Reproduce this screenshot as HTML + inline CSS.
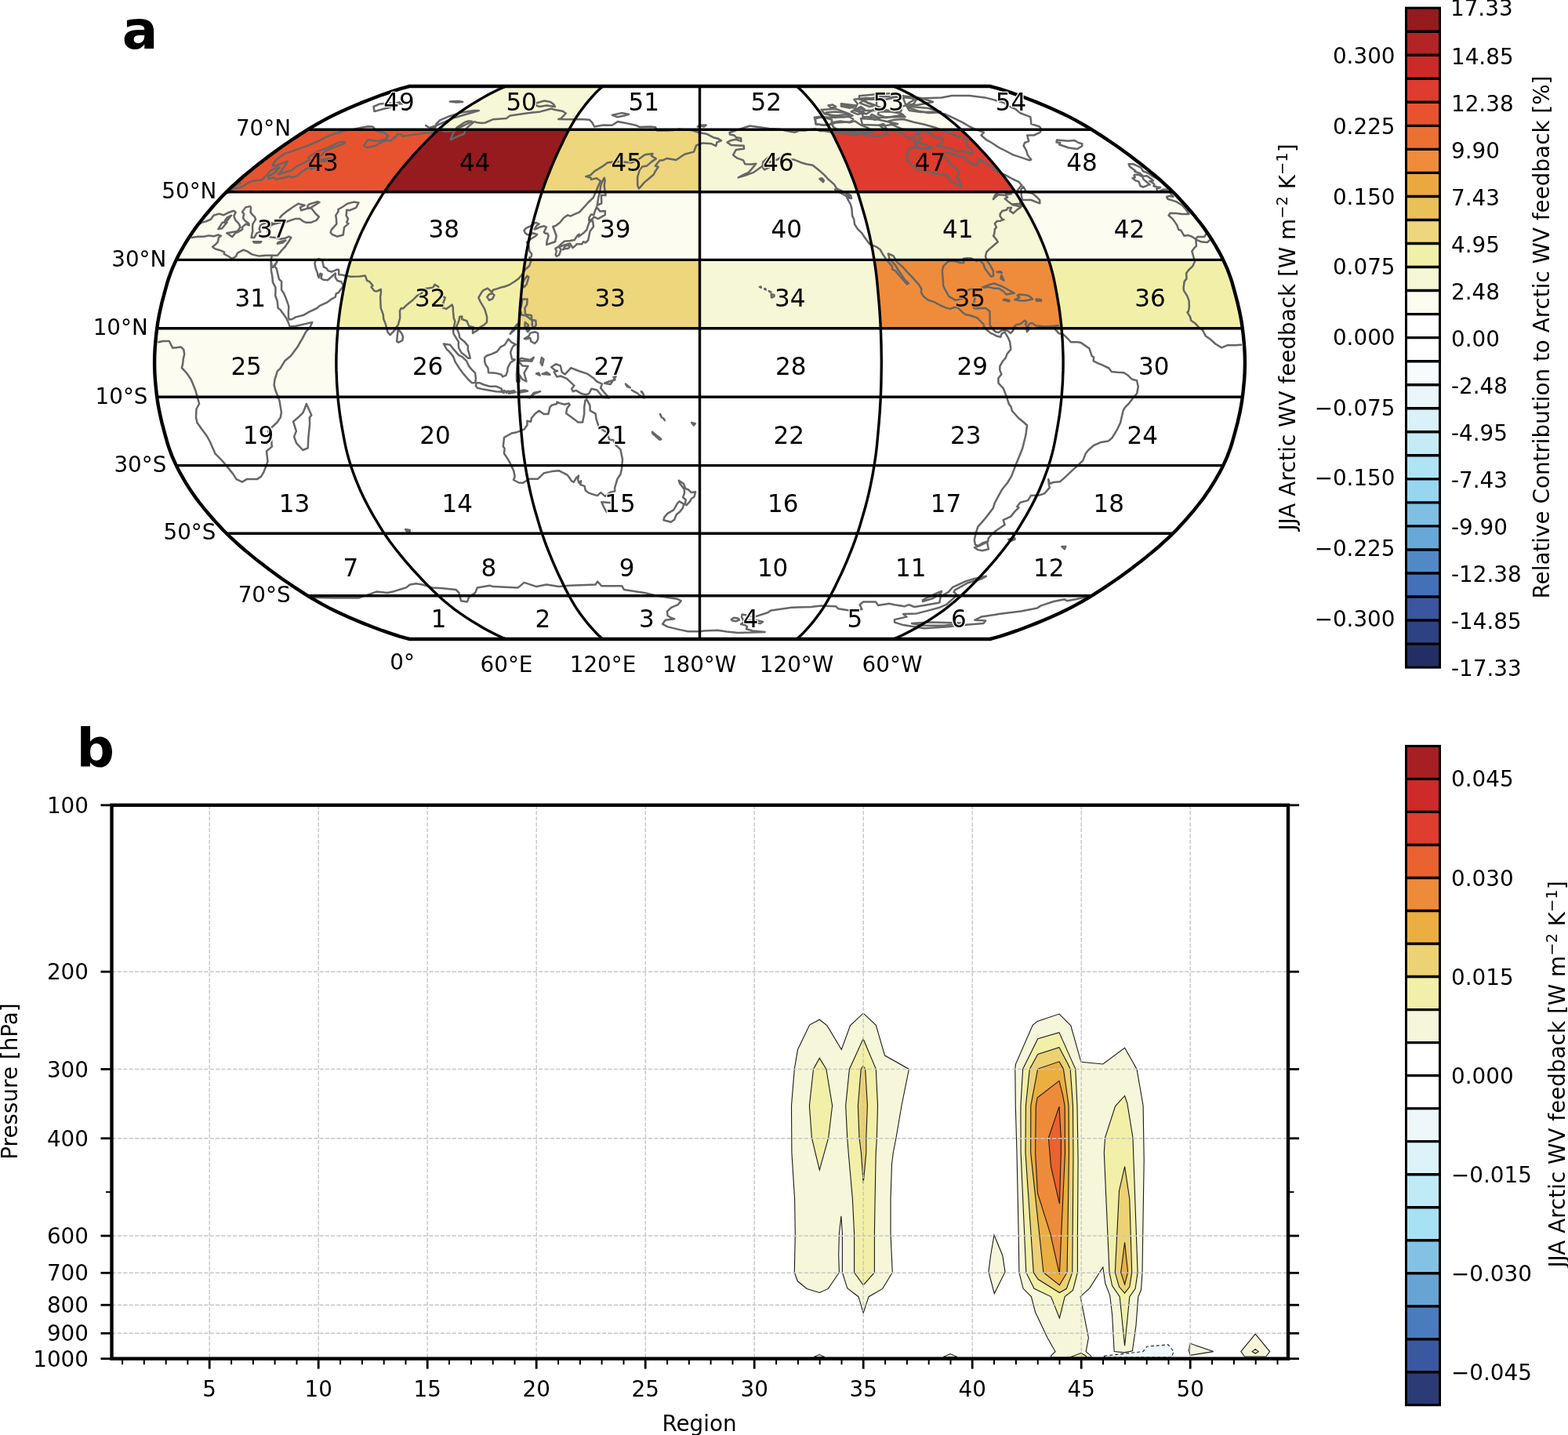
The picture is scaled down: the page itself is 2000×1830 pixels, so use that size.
<!DOCTYPE html>
<html><head><meta charset="utf-8"><title>figure</title>
<style>html,body{margin:0;padding:0;background:#fff;overflow:hidden;width:2000px;height:1830px;}svg{display:block;}</style>
</head><body>
<svg width="2000" height="1830" viewBox="0 0 2000 1830">
<rect width="2000" height="1830" fill="#fff"/>
<g id="fills">
<path d="M200.2,506.2 L431,506.2 L431,506.2 L430.8,504.7 L430.7,503.2 L430.6,501.8 L430.5,500.3 L430.4,498.8 L430.3,497.3 L430.1,495.8 L430,494.4 L430,492.9 L429.9,491.4 L429.8,489.9 L429.7,488.4 L429.6,486.9 L429.5,485.5 L429.5,484 L429.4,482.5 L429.3,481 L429.3,479.5 L429.2,478.1 L429.2,476.6 L429.1,475.1 L429.1,473.6 L429,472.1 L429,470.6 L429,469.2 L428.9,467.7 L428.9,466.2 L428.9,464.7 L428.8,463.2 L428.8,461.8 L428.9,460.3 L428.9,458.8 L428.9,457.3 L429,455.8 L429,454.4 L429,452.9 L429.1,451.4 L429.1,449.9 L429.2,448.4 L429.2,446.9 L429.3,445.5 L429.3,444 L429.4,442.5 L429.5,441 L429.5,439.5 L429.6,438.1 L429.7,436.6 L429.8,435.1 L429.9,433.6 L430,432.1 L430,430.6 L430.1,429.2 L430.3,427.7 L430.4,426.2 L430.5,424.7 L430.6,423.2 L430.7,421.8 L430.8,420.3 L431,418.8 L431,418.8 L200.2,418.8 L200.2,418.8 L200,420.3 L199.8,421.8 L199.6,423.2 L199.5,424.7 L199.3,426.2 L199.1,427.7 L199,429.2 L198.8,430.6 L198.7,432.1 L198.5,433.6 L198.4,435.1 L198.3,436.6 L198.2,438.1 L198.1,439.5 L197.9,441 L197.8,442.5 L197.7,444 L197.7,445.5 L197.6,446.9 L197.5,448.4 L197.4,449.9 L197.4,451.4 L197.3,452.9 L197.2,454.4 L197.2,455.8 L197.1,457.3 L197.1,458.8 L197,460.3 L197,461.8 L197,463.2 L197,464.7 L197.1,466.2 L197.1,467.7 L197.2,469.2 L197.2,470.6 L197.3,472.1 L197.4,473.6 L197.4,475.1 L197.5,476.6 L197.6,478.1 L197.7,479.5 L197.7,481 L197.8,482.5 L197.9,484 L198.1,485.5 L198.2,486.9 L198.3,488.4 L198.4,489.9 L198.5,491.4 L198.7,492.9 L198.8,494.4 L199,495.8 L199.1,497.3 L199.3,498.8 L199.5,500.3 L199.6,501.8 L199.8,503.2 L200,504.7 L200.2,506.2Z" fill="#fcfcf1"/>
<path d="M431,418.8 L661.7,418.8 L661.7,418.8 L661.8,417.3 L661.9,415.8 L661.9,414.3 L662,412.9 L662.1,411.4 L662.2,409.9 L662.3,408.4 L662.3,406.9 L662.4,405.5 L662.5,404 L662.6,402.5 L662.7,401 L662.8,399.5 L662.9,398 L663,396.6 L663.1,395.1 L663.2,393.6 L663.3,392.1 L663.5,390.6 L663.6,389.2 L663.7,387.7 L663.8,386.2 L664,384.7 L664.1,383.2 L664.2,381.7 L664.3,380.3 L664.5,378.8 L664.6,377.3 L664.7,375.8 L664.9,374.3 L665,372.9 L665.1,371.4 L665.3,369.9 L665.4,368.4 L665.5,366.9 L665.7,365.4 L665.8,364 L666,362.5 L666.1,361 L666.2,359.5 L666.4,358 L666.6,356.6 L666.7,355.1 L666.9,353.6 L667.1,352.1 L667.2,350.6 L667.4,349.2 L667.6,347.7 L667.8,346.2 L668,344.7 L668.2,343.2 L668.4,341.7 L668.6,340.3 L668.8,338.8 L669,337.3 L669.2,335.8 L669.5,334.3 L669.7,332.9 L669.9,331.4 L669.9,331.4 L447.4,331.4 L447.4,331.4 L446.9,332.9 L446.4,334.3 L446,335.8 L445.5,337.3 L445.1,338.8 L444.7,340.3 L444.3,341.7 L443.9,343.2 L443.5,344.7 L443.1,346.2 L442.7,347.7 L442.3,349.2 L442,350.6 L441.6,352.1 L441.3,353.6 L440.9,355.1 L440.6,356.6 L440.3,358 L440,359.5 L439.7,361 L439.4,362.5 L439.1,364 L438.8,365.4 L438.6,366.9 L438.3,368.4 L438,369.9 L437.7,371.4 L437.5,372.9 L437.2,374.3 L437,375.8 L436.7,377.3 L436.4,378.8 L436.2,380.3 L435.9,381.7 L435.7,383.2 L435.4,384.7 L435.2,386.2 L434.9,387.7 L434.7,389.2 L434.4,390.6 L434.2,392.1 L434,393.6 L433.7,395.1 L433.5,396.6 L433.3,398 L433.1,399.5 L432.9,401 L432.7,402.5 L432.5,404 L432.4,405.5 L432.2,406.9 L432,408.4 L431.8,409.9 L431.7,411.4 L431.5,412.9 L431.4,414.3 L431.2,415.8 L431.1,417.3 L431,418.8Z" fill="#f2f0a8"/>
<path d="M661.7,418.8 L892.5,418.8 L892.5,418.8 L892.5,417.3 L892.5,415.8 L892.5,414.3 L892.5,412.9 L892.5,411.4 L892.5,409.9 L892.5,408.4 L892.5,406.9 L892.5,405.5 L892.5,404 L892.5,402.5 L892.5,401 L892.5,399.5 L892.5,398 L892.5,396.6 L892.5,395.1 L892.5,393.6 L892.5,392.1 L892.5,390.6 L892.5,389.2 L892.5,387.7 L892.5,386.2 L892.5,384.7 L892.5,383.2 L892.5,381.7 L892.5,380.3 L892.5,378.8 L892.5,377.3 L892.5,375.8 L892.5,374.3 L892.5,372.9 L892.5,371.4 L892.5,369.9 L892.5,368.4 L892.5,366.9 L892.5,365.4 L892.5,364 L892.5,362.5 L892.5,361 L892.5,359.5 L892.5,358 L892.5,356.6 L892.5,355.1 L892.5,353.6 L892.5,352.1 L892.5,350.6 L892.5,349.2 L892.5,347.7 L892.5,346.2 L892.5,344.7 L892.5,343.2 L892.5,341.7 L892.5,340.3 L892.5,338.8 L892.5,337.3 L892.5,335.8 L892.5,334.3 L892.5,332.9 L892.5,331.4 L892.5,331.4 L669.9,331.4 L669.9,331.4 L669.7,332.9 L669.5,334.3 L669.2,335.8 L669,337.3 L668.8,338.8 L668.6,340.3 L668.4,341.7 L668.2,343.2 L668,344.7 L667.8,346.2 L667.6,347.7 L667.4,349.2 L667.2,350.6 L667.1,352.1 L666.9,353.6 L666.7,355.1 L666.6,356.6 L666.4,358 L666.2,359.5 L666.1,361 L666,362.5 L665.8,364 L665.7,365.4 L665.5,366.9 L665.4,368.4 L665.3,369.9 L665.1,371.4 L665,372.9 L664.9,374.3 L664.7,375.8 L664.6,377.3 L664.5,378.8 L664.3,380.3 L664.2,381.7 L664.1,383.2 L664,384.7 L663.8,386.2 L663.7,387.7 L663.6,389.2 L663.5,390.6 L663.3,392.1 L663.2,393.6 L663.1,395.1 L663,396.6 L662.9,398 L662.8,399.5 L662.7,401 L662.6,402.5 L662.5,404 L662.4,405.5 L662.3,406.9 L662.3,408.4 L662.2,409.9 L662.1,411.4 L662,412.9 L661.9,414.3 L661.9,415.8 L661.8,417.3 L661.7,418.8Z" fill="#edd67c"/>
<path d="M892.5,418.8 L1123.3,418.8 L1123.3,418.8 L1123.2,417.3 L1123.1,415.8 L1123.1,414.3 L1123,412.9 L1122.9,411.4 L1122.8,409.9 L1122.7,408.4 L1122.7,406.9 L1122.6,405.5 L1122.5,404 L1122.4,402.5 L1122.3,401 L1122.2,399.5 L1122.1,398 L1122,396.6 L1121.9,395.1 L1121.8,393.6 L1121.7,392.1 L1121.5,390.6 L1121.4,389.2 L1121.3,387.7 L1121.2,386.2 L1121,384.7 L1120.9,383.2 L1120.8,381.7 L1120.7,380.3 L1120.5,378.8 L1120.4,377.3 L1120.3,375.8 L1120.1,374.3 L1120,372.9 L1119.9,371.4 L1119.7,369.9 L1119.6,368.4 L1119.5,366.9 L1119.3,365.4 L1119.2,364 L1119,362.5 L1118.9,361 L1118.8,359.5 L1118.6,358 L1118.4,356.6 L1118.3,355.1 L1118.1,353.6 L1117.9,352.1 L1117.8,350.6 L1117.6,349.2 L1117.4,347.7 L1117.2,346.2 L1117,344.7 L1116.8,343.2 L1116.6,341.7 L1116.4,340.3 L1116.2,338.8 L1116,337.3 L1115.8,335.8 L1115.5,334.3 L1115.3,332.9 L1115.1,331.4 L1115.1,331.4 L892.5,331.4 L892.5,331.4 L892.5,332.9 L892.5,334.3 L892.5,335.8 L892.5,337.3 L892.5,338.8 L892.5,340.3 L892.5,341.7 L892.5,343.2 L892.5,344.7 L892.5,346.2 L892.5,347.7 L892.5,349.2 L892.5,350.6 L892.5,352.1 L892.5,353.6 L892.5,355.1 L892.5,356.6 L892.5,358 L892.5,359.5 L892.5,361 L892.5,362.5 L892.5,364 L892.5,365.4 L892.5,366.9 L892.5,368.4 L892.5,369.9 L892.5,371.4 L892.5,372.9 L892.5,374.3 L892.5,375.8 L892.5,377.3 L892.5,378.8 L892.5,380.3 L892.5,381.7 L892.5,383.2 L892.5,384.7 L892.5,386.2 L892.5,387.7 L892.5,389.2 L892.5,390.6 L892.5,392.1 L892.5,393.6 L892.5,395.1 L892.5,396.6 L892.5,398 L892.5,399.5 L892.5,401 L892.5,402.5 L892.5,404 L892.5,405.5 L892.5,406.9 L892.5,408.4 L892.5,409.9 L892.5,411.4 L892.5,412.9 L892.5,414.3 L892.5,415.8 L892.5,417.3 L892.5,418.8Z" fill="#f6f7d6"/>
<path d="M1123.3,418.8 L1354,418.8 L1354,418.8 L1353.9,417.3 L1353.8,415.8 L1353.6,414.3 L1353.5,412.9 L1353.3,411.4 L1353.2,409.9 L1353,408.4 L1352.8,406.9 L1352.6,405.5 L1352.5,404 L1352.3,402.5 L1352.1,401 L1351.9,399.5 L1351.7,398 L1351.5,396.6 L1351.3,395.1 L1351,393.6 L1350.8,392.1 L1350.6,390.6 L1350.3,389.2 L1350.1,387.7 L1349.8,386.2 L1349.6,384.7 L1349.3,383.2 L1349.1,381.7 L1348.8,380.3 L1348.6,378.8 L1348.3,377.3 L1348,375.8 L1347.8,374.3 L1347.5,372.9 L1347.3,371.4 L1347,369.9 L1346.7,368.4 L1346.4,366.9 L1346.2,365.4 L1345.9,364 L1345.6,362.5 L1345.3,361 L1345,359.5 L1344.7,358 L1344.4,356.6 L1344.1,355.1 L1343.7,353.6 L1343.4,352.1 L1343,350.6 L1342.7,349.2 L1342.3,347.7 L1341.9,346.2 L1341.5,344.7 L1341.1,343.2 L1340.7,341.7 L1340.3,340.3 L1339.9,338.8 L1339.5,337.3 L1339,335.8 L1338.6,334.3 L1338.1,332.9 L1337.6,331.4 L1337.6,331.4 L1115.1,331.4 L1115.1,331.4 L1115.3,332.9 L1115.5,334.3 L1115.8,335.8 L1116,337.3 L1116.2,338.8 L1116.4,340.3 L1116.6,341.7 L1116.8,343.2 L1117,344.7 L1117.2,346.2 L1117.4,347.7 L1117.6,349.2 L1117.8,350.6 L1117.9,352.1 L1118.1,353.6 L1118.3,355.1 L1118.4,356.6 L1118.6,358 L1118.8,359.5 L1118.9,361 L1119,362.5 L1119.2,364 L1119.3,365.4 L1119.5,366.9 L1119.6,368.4 L1119.7,369.9 L1119.9,371.4 L1120,372.9 L1120.1,374.3 L1120.3,375.8 L1120.4,377.3 L1120.5,378.8 L1120.7,380.3 L1120.8,381.7 L1120.9,383.2 L1121,384.7 L1121.2,386.2 L1121.3,387.7 L1121.4,389.2 L1121.5,390.6 L1121.7,392.1 L1121.8,393.6 L1121.9,395.1 L1122,396.6 L1122.1,398 L1122.2,399.5 L1122.3,401 L1122.4,402.5 L1122.5,404 L1122.6,405.5 L1122.7,406.9 L1122.7,408.4 L1122.8,409.9 L1122.9,411.4 L1123,412.9 L1123.1,414.3 L1123.1,415.8 L1123.2,417.3 L1123.3,418.8Z" fill="#ef8c3b"/>
<path d="M1354,418.8 L1584.8,418.8 L1584.8,418.8 L1584.6,417.3 L1584.4,415.8 L1584.2,414.3 L1584,412.9 L1583.7,411.4 L1583.5,409.9 L1583.2,408.4 L1583,406.9 L1582.7,405.5 L1582.5,404 L1582.2,402.5 L1581.9,401 L1581.6,399.5 L1581.3,398 L1581,396.6 L1580.6,395.1 L1580.3,393.6 L1580,392.1 L1579.6,390.6 L1579.3,389.2 L1578.9,387.7 L1578.5,386.2 L1578.1,384.7 L1577.8,383.2 L1577.4,381.7 L1577,380.3 L1576.6,378.8 L1576.2,377.3 L1575.8,375.8 L1575.4,374.3 L1575,372.9 L1574.6,371.4 L1574.2,369.9 L1573.8,368.4 L1573.4,366.9 L1573,365.4 L1572.6,364 L1572.1,362.5 L1571.7,361 L1571.3,359.5 L1570.8,358 L1570.3,356.6 L1569.8,355.1 L1569.3,353.6 L1568.8,352.1 L1568.3,350.6 L1567.8,349.2 L1567.2,347.7 L1566.7,346.2 L1566.1,344.7 L1565.5,343.2 L1564.9,341.7 L1564.2,340.3 L1563.6,338.8 L1562.9,337.3 L1562.3,335.8 L1561.6,334.3 L1560.9,332.9 L1560.2,331.4 L1560.2,331.4 L1337.6,331.4 L1337.6,331.4 L1338.1,332.9 L1338.6,334.3 L1339,335.8 L1339.5,337.3 L1339.9,338.8 L1340.3,340.3 L1340.7,341.7 L1341.1,343.2 L1341.5,344.7 L1341.9,346.2 L1342.3,347.7 L1342.7,349.2 L1343,350.6 L1343.4,352.1 L1343.7,353.6 L1344.1,355.1 L1344.4,356.6 L1344.7,358 L1345,359.5 L1345.3,361 L1345.6,362.5 L1345.9,364 L1346.2,365.4 L1346.4,366.9 L1346.7,368.4 L1347,369.9 L1347.3,371.4 L1347.5,372.9 L1347.8,374.3 L1348,375.8 L1348.3,377.3 L1348.6,378.8 L1348.8,380.3 L1349.1,381.7 L1349.3,383.2 L1349.6,384.7 L1349.8,386.2 L1350.1,387.7 L1350.3,389.2 L1350.6,390.6 L1350.8,392.1 L1351,393.6 L1351.3,395.1 L1351.5,396.6 L1351.7,398 L1351.9,399.5 L1352.1,401 L1352.3,402.5 L1352.5,404 L1352.6,405.5 L1352.8,406.9 L1353,408.4 L1353.2,409.9 L1353.3,411.4 L1353.5,412.9 L1353.6,414.3 L1353.8,415.8 L1353.9,417.3 L1354,418.8Z" fill="#f2f0a8"/>
<path d="M224.8,331.4 L447.4,331.4 L447.4,331.4 L447.9,329.9 L448.4,328.4 L448.9,326.9 L449.4,325.4 L449.9,324 L450.4,322.5 L451,321 L451.5,319.5 L452.1,318 L452.6,316.5 L453.2,315.1 L453.8,313.6 L454.4,312.1 L455,310.6 L455.6,309.1 L456.2,307.7 L456.8,306.2 L457.4,304.7 L458,303.2 L458.7,301.7 L459.3,300.3 L460,298.8 L460.6,297.3 L461.3,295.8 L462,294.4 L462.7,292.9 L463.4,291.4 L464.1,289.9 L464.8,288.5 L465.6,287 L466.3,285.5 L467.1,284.1 L467.8,282.6 L468.6,281.1 L469.4,279.6 L470.2,278.2 L471,276.7 L471.8,275.3 L472.6,273.8 L473.4,272.3 L474.2,270.9 L475.1,269.4 L475.9,267.9 L476.8,266.5 L477.6,265 L478.4,263.6 L479.3,262.1 L480.2,260.7 L481,259.2 L481.9,257.8 L482.8,256.3 L483.6,254.9 L484.5,253.4 L485.4,252 L486.3,250.5 L487.3,249.1 L488.2,247.7 L489.1,246.2 L490.1,244.8 L490.1,244.8 L288.9,244.8 L288.9,244.8 L287.4,246.2 L286,247.7 L284.6,249.1 L283.3,250.5 L281.9,252 L280.6,253.4 L279.2,254.9 L277.9,256.3 L276.6,257.8 L275.3,259.2 L274,260.7 L272.7,262.1 L271.4,263.6 L270.1,265 L268.9,266.5 L267.6,267.9 L266.4,269.4 L265.1,270.9 L263.9,272.3 L262.6,273.8 L261.4,275.3 L260.2,276.7 L259,278.2 L257.8,279.6 L256.6,281.1 L255.5,282.6 L254.3,284.1 L253.2,285.5 L252.1,287 L251,288.5 L249.9,289.9 L248.8,291.4 L247.8,292.9 L246.7,294.4 L245.7,295.8 L244.7,297.3 L243.7,298.8 L242.7,300.3 L241.7,301.7 L240.8,303.2 L239.8,304.7 L238.9,306.2 L238,307.7 L237.1,309.1 L236.2,310.6 L235.3,312.1 L234.4,313.6 L233.5,315.1 L232.7,316.5 L231.8,318 L231,319.5 L230.2,321 L229.4,322.5 L228.6,324 L227.8,325.4 L227,326.9 L226.3,328.4 L225.5,329.9 L224.8,331.4Z" fill="#fcfcf1"/>
<path d="M669.9,331.4 L892.5,331.4 L892.5,331.4 L892.5,329.9 L892.5,328.4 L892.5,326.9 L892.5,325.4 L892.5,324 L892.5,322.5 L892.5,321 L892.5,319.5 L892.5,318 L892.5,316.5 L892.5,315.1 L892.5,313.6 L892.5,312.1 L892.5,310.6 L892.5,309.1 L892.5,307.7 L892.5,306.2 L892.5,304.7 L892.5,303.2 L892.5,301.7 L892.5,300.3 L892.5,298.8 L892.5,297.3 L892.5,295.8 L892.5,294.4 L892.5,292.9 L892.5,291.4 L892.5,289.9 L892.5,288.5 L892.5,287 L892.5,285.5 L892.5,284.1 L892.5,282.6 L892.5,281.1 L892.5,279.6 L892.5,278.2 L892.5,276.7 L892.5,275.3 L892.5,273.8 L892.5,272.3 L892.5,270.9 L892.5,269.4 L892.5,267.9 L892.5,266.5 L892.5,265 L892.5,263.6 L892.5,262.1 L892.5,260.7 L892.5,259.2 L892.5,257.8 L892.5,256.3 L892.5,254.9 L892.5,253.4 L892.5,252 L892.5,250.5 L892.5,249.1 L892.5,247.7 L892.5,246.2 L892.5,244.8 L892.5,244.8 L691.3,244.8 L691.3,244.8 L690.8,246.2 L690.3,247.7 L689.9,249.1 L689.4,250.5 L689,252 L688.5,253.4 L688.1,254.9 L687.6,256.3 L687.2,257.8 L686.8,259.2 L686.3,260.7 L685.9,262.1 L685.5,263.6 L685,265 L684.6,266.5 L684.2,267.9 L683.8,269.4 L683.4,270.9 L683,272.3 L682.5,273.8 L682.1,275.3 L681.7,276.7 L681.3,278.2 L680.9,279.6 L680.5,281.1 L680.2,282.6 L679.8,284.1 L679.4,285.5 L679,287 L678.7,288.5 L678.3,289.9 L677.9,291.4 L677.6,292.9 L677.2,294.4 L676.9,295.8 L676.6,297.3 L676.2,298.8 L675.9,300.3 L675.6,301.7 L675.3,303.2 L674.9,304.7 L674.6,306.2 L674.3,307.7 L674,309.1 L673.7,310.6 L673.4,312.1 L673.1,313.6 L672.8,315.1 L672.6,316.5 L672.3,318 L672,319.5 L671.7,321 L671.5,322.5 L671.2,324 L670.9,325.4 L670.7,326.9 L670.4,328.4 L670.2,329.9 L669.9,331.4Z" fill="#fcfcf1"/>
<path d="M1115.1,331.4 L1337.6,331.4 L1337.6,331.4 L1337.1,329.9 L1336.6,328.4 L1336.1,326.9 L1335.6,325.4 L1335.1,324 L1334.6,322.5 L1334,321 L1333.5,319.5 L1332.9,318 L1332.4,316.5 L1331.8,315.1 L1331.2,313.6 L1330.6,312.1 L1330,310.6 L1329.4,309.1 L1328.8,307.7 L1328.2,306.2 L1327.6,304.7 L1327,303.2 L1326.3,301.7 L1325.7,300.3 L1325,298.8 L1324.4,297.3 L1323.7,295.8 L1323,294.4 L1322.3,292.9 L1321.6,291.4 L1320.9,289.9 L1320.2,288.5 L1319.4,287 L1318.7,285.5 L1317.9,284.1 L1317.2,282.6 L1316.4,281.1 L1315.6,279.6 L1314.8,278.2 L1314,276.7 L1313.2,275.3 L1312.4,273.8 L1311.6,272.3 L1310.8,270.9 L1309.9,269.4 L1309.1,267.9 L1308.2,266.5 L1307.4,265 L1306.6,263.6 L1305.7,262.1 L1304.8,260.7 L1304,259.2 L1303.1,257.8 L1302.2,256.3 L1301.4,254.9 L1300.5,253.4 L1299.6,252 L1298.7,250.5 L1297.7,249.1 L1296.8,247.7 L1295.9,246.2 L1294.9,244.8 L1294.9,244.8 L1093.7,244.8 L1093.7,244.8 L1094.2,246.2 L1094.7,247.7 L1095.1,249.1 L1095.6,250.5 L1096,252 L1096.5,253.4 L1096.9,254.9 L1097.4,256.3 L1097.8,257.8 L1098.2,259.2 L1098.7,260.7 L1099.1,262.1 L1099.5,263.6 L1100,265 L1100.4,266.5 L1100.8,267.9 L1101.2,269.4 L1101.6,270.9 L1102,272.3 L1102.5,273.8 L1102.9,275.3 L1103.3,276.7 L1103.7,278.2 L1104.1,279.6 L1104.5,281.1 L1104.8,282.6 L1105.2,284.1 L1105.6,285.5 L1106,287 L1106.3,288.5 L1106.7,289.9 L1107.1,291.4 L1107.4,292.9 L1107.8,294.4 L1108.1,295.8 L1108.4,297.3 L1108.8,298.8 L1109.1,300.3 L1109.4,301.7 L1109.7,303.2 L1110.1,304.7 L1110.4,306.2 L1110.7,307.7 L1111,309.1 L1111.3,310.6 L1111.6,312.1 L1111.9,313.6 L1112.2,315.1 L1112.4,316.5 L1112.7,318 L1113,319.5 L1113.3,321 L1113.5,322.5 L1113.8,324 L1114.1,325.4 L1114.3,326.9 L1114.6,328.4 L1114.8,329.9 L1115.1,331.4Z" fill="#f6f7d6"/>
<path d="M1337.6,331.4 L1560.2,331.4 L1560.2,331.4 L1559.5,329.9 L1558.7,328.4 L1558,326.9 L1557.2,325.4 L1556.4,324 L1555.6,322.5 L1554.8,321 L1554,319.5 L1553.2,318 L1552.3,316.5 L1551.5,315.1 L1550.6,313.6 L1549.7,312.1 L1548.8,310.6 L1547.9,309.1 L1547,307.7 L1546.1,306.2 L1545.2,304.7 L1544.2,303.2 L1543.3,301.7 L1542.3,300.3 L1541.3,298.8 L1540.3,297.3 L1539.3,295.8 L1538.3,294.4 L1537.2,292.9 L1536.2,291.4 L1535.1,289.9 L1534,288.5 L1532.9,287 L1531.8,285.5 L1530.7,284.1 L1529.5,282.6 L1528.4,281.1 L1527.2,279.6 L1526,278.2 L1524.8,276.7 L1523.6,275.3 L1522.4,273.8 L1521.1,272.3 L1519.9,270.9 L1518.6,269.4 L1517.4,267.9 L1516.1,266.5 L1514.9,265 L1513.6,263.6 L1512.3,262.1 L1511,260.7 L1509.7,259.2 L1508.4,257.8 L1507.1,256.3 L1505.8,254.9 L1504.4,253.4 L1503.1,252 L1501.7,250.5 L1500.4,249.1 L1499,247.7 L1497.6,246.2 L1496.1,244.8 L1496.1,244.8 L1294.9,244.8 L1294.9,244.8 L1295.9,246.2 L1296.8,247.7 L1297.7,249.1 L1298.7,250.5 L1299.6,252 L1300.5,253.4 L1301.4,254.9 L1302.2,256.3 L1303.1,257.8 L1304,259.2 L1304.8,260.7 L1305.7,262.1 L1306.6,263.6 L1307.4,265 L1308.2,266.5 L1309.1,267.9 L1309.9,269.4 L1310.8,270.9 L1311.6,272.3 L1312.4,273.8 L1313.2,275.3 L1314,276.7 L1314.8,278.2 L1315.6,279.6 L1316.4,281.1 L1317.2,282.6 L1317.9,284.1 L1318.7,285.5 L1319.4,287 L1320.2,288.5 L1320.9,289.9 L1321.6,291.4 L1322.3,292.9 L1323,294.4 L1323.7,295.8 L1324.4,297.3 L1325,298.8 L1325.7,300.3 L1326.3,301.7 L1327,303.2 L1327.6,304.7 L1328.2,306.2 L1328.8,307.7 L1329.4,309.1 L1330,310.6 L1330.6,312.1 L1331.2,313.6 L1331.8,315.1 L1332.4,316.5 L1332.9,318 L1333.5,319.5 L1334,321 L1334.6,322.5 L1335.1,324 L1335.6,325.4 L1336.1,326.9 L1336.6,328.4 L1337.1,329.9 L1337.6,331.4Z" fill="#fcfcf1"/>
<path d="M288.9,244.8 L490.1,244.8 L490.1,244.8 L491,243.4 L492,241.9 L493,240.5 L494,239.1 L495,237.7 L496,236.2 L497.1,234.8 L498.1,233.4 L499.2,232 L500.2,230.6 L501.3,229.2 L502.3,227.8 L503.4,226.3 L504.5,224.9 L505.6,223.5 L506.7,222.1 L507.8,220.8 L508.9,219.4 L510.1,218 L511.2,216.6 L512.3,215.2 L513.5,213.8 L514.6,212.4 L515.8,211.1 L516.9,209.7 L518.1,208.3 L519.3,207 L520.4,205.6 L521.6,204.2 L522.8,202.9 L524,201.5 L525.2,200.2 L526.4,198.8 L527.6,197.5 L528.8,196.1 L530,194.8 L531.3,193.5 L532.5,192.1 L533.7,190.8 L535,189.5 L536.2,188.2 L537.4,186.9 L538.7,185.6 L539.9,184.2 L541.2,182.9 L542.5,181.6 L543.7,180.3 L545,179.1 L546.3,177.8 L547.5,176.5 L548.8,175.2 L550.1,173.9 L551.4,172.7 L552.7,171.4 L554,170.2 L555.3,168.9 L556.6,167.6 L558,166.4 L559.3,165.2 L559.3,165.2 L392.7,165.2 L392.7,165.2 L390.7,166.4 L388.7,167.6 L386.7,168.9 L384.8,170.2 L382.8,171.4 L380.9,172.7 L378.9,173.9 L377,175.2 L375.1,176.5 L373.1,177.8 L371.2,179.1 L369.3,180.3 L367.4,181.6 L365.5,182.9 L363.7,184.2 L361.8,185.6 L359.9,186.9 L358,188.2 L356.2,189.5 L354.3,190.8 L352.5,192.1 L350.6,193.5 L348.8,194.8 L347,196.1 L345.2,197.5 L343.4,198.8 L341.6,200.2 L339.8,201.5 L338,202.9 L336.2,204.2 L334.4,205.6 L332.6,207 L330.9,208.3 L329.1,209.7 L327.4,211.1 L325.7,212.4 L324,213.8 L322.2,215.2 L320.5,216.6 L318.8,218 L317.2,219.4 L315.5,220.8 L313.8,222.1 L312.2,223.5 L310.5,224.9 L308.9,226.3 L307.3,227.8 L305.7,229.2 L304.1,230.6 L302.5,232 L300.9,233.4 L299.3,234.8 L297.8,236.2 L296.3,237.7 L294.8,239.1 L293.3,240.5 L291.8,241.9 L290.3,243.4 L288.9,244.8Z" fill="#e8532f"/>
<path d="M490.1,244.8 L691.3,244.8 L691.3,244.8 L691.8,243.4 L692.3,241.9 L692.8,240.5 L693.3,239.1 L693.8,237.7 L694.3,236.2 L694.8,234.8 L695.3,233.4 L695.8,232 L696.4,230.6 L696.9,229.2 L697.4,227.8 L698,226.3 L698.5,224.9 L699.1,223.5 L699.6,222.1 L700.2,220.8 L700.7,219.4 L701.3,218 L701.8,216.6 L702.4,215.2 L703,213.8 L703.6,212.4 L704.1,211.1 L704.7,209.7 L705.3,208.3 L705.9,207 L706.5,205.6 L707.1,204.2 L707.7,202.9 L708.3,201.5 L708.9,200.2 L709.5,198.8 L710.1,197.5 L710.7,196.1 L711.3,194.8 L711.9,193.5 L712.5,192.1 L713.1,190.8 L713.7,189.5 L714.3,188.2 L715,186.9 L715.6,185.6 L716.2,184.2 L716.8,182.9 L717.5,181.6 L718.1,180.3 L718.7,179.1 L719.4,177.8 L720,176.5 L720.7,175.2 L721.3,173.9 L722,172.7 L722.6,171.4 L723.3,170.2 L723.9,168.9 L724.6,167.6 L725.2,166.4 L725.9,165.2 L725.9,165.2 L559.3,165.2 L559.3,165.2 L558,166.4 L556.6,167.6 L555.3,168.9 L554,170.2 L552.7,171.4 L551.4,172.7 L550.1,173.9 L548.8,175.2 L547.5,176.5 L546.3,177.8 L545,179.1 L543.7,180.3 L542.5,181.6 L541.2,182.9 L539.9,184.2 L538.7,185.6 L537.4,186.9 L536.2,188.2 L535,189.5 L533.7,190.8 L532.5,192.1 L531.3,193.5 L530,194.8 L528.8,196.1 L527.6,197.5 L526.4,198.8 L525.2,200.2 L524,201.5 L522.8,202.9 L521.6,204.2 L520.4,205.6 L519.3,207 L518.1,208.3 L516.9,209.7 L515.8,211.1 L514.6,212.4 L513.5,213.8 L512.3,215.2 L511.2,216.6 L510.1,218 L508.9,219.4 L507.8,220.8 L506.7,222.1 L505.6,223.5 L504.5,224.9 L503.4,226.3 L502.3,227.8 L501.3,229.2 L500.2,230.6 L499.2,232 L498.1,233.4 L497.1,234.8 L496,236.2 L495,237.7 L494,239.1 L493,240.5 L492,241.9 L491,243.4 L490.1,244.8Z" fill="#951b1e"/>
<path d="M691.3,244.8 L892.5,244.8 L892.5,244.8 L892.5,243.4 L892.5,241.9 L892.5,240.5 L892.5,239.1 L892.5,237.7 L892.5,236.2 L892.5,234.8 L892.5,233.4 L892.5,232 L892.5,230.6 L892.5,229.2 L892.5,227.8 L892.5,226.3 L892.5,224.9 L892.5,223.5 L892.5,222.1 L892.5,220.8 L892.5,219.4 L892.5,218 L892.5,216.6 L892.5,215.2 L892.5,213.8 L892.5,212.4 L892.5,211.1 L892.5,209.7 L892.5,208.3 L892.5,207 L892.5,205.6 L892.5,204.2 L892.5,202.9 L892.5,201.5 L892.5,200.2 L892.5,198.8 L892.5,197.5 L892.5,196.1 L892.5,194.8 L892.5,193.5 L892.5,192.1 L892.5,190.8 L892.5,189.5 L892.5,188.2 L892.5,186.9 L892.5,185.6 L892.5,184.2 L892.5,182.9 L892.5,181.6 L892.5,180.3 L892.5,179.1 L892.5,177.8 L892.5,176.5 L892.5,175.2 L892.5,173.9 L892.5,172.7 L892.5,171.4 L892.5,170.2 L892.5,168.9 L892.5,167.6 L892.5,166.4 L892.5,165.2 L892.5,165.2 L725.9,165.2 L725.9,165.2 L725.2,166.4 L724.6,167.6 L723.9,168.9 L723.3,170.2 L722.6,171.4 L722,172.7 L721.3,173.9 L720.7,175.2 L720,176.5 L719.4,177.8 L718.7,179.1 L718.1,180.3 L717.5,181.6 L716.8,182.9 L716.2,184.2 L715.6,185.6 L715,186.9 L714.3,188.2 L713.7,189.5 L713.1,190.8 L712.5,192.1 L711.9,193.5 L711.3,194.8 L710.7,196.1 L710.1,197.5 L709.5,198.8 L708.9,200.2 L708.3,201.5 L707.7,202.9 L707.1,204.2 L706.5,205.6 L705.9,207 L705.3,208.3 L704.7,209.7 L704.1,211.1 L703.6,212.4 L703,213.8 L702.4,215.2 L701.8,216.6 L701.3,218 L700.7,219.4 L700.2,220.8 L699.6,222.1 L699.1,223.5 L698.5,224.9 L698,226.3 L697.4,227.8 L696.9,229.2 L696.4,230.6 L695.8,232 L695.3,233.4 L694.8,234.8 L694.3,236.2 L693.8,237.7 L693.3,239.1 L692.8,240.5 L692.3,241.9 L691.8,243.4 L691.3,244.8Z" fill="#edd67c"/>
<path d="M892.5,244.8 L1093.7,244.8 L1093.7,244.8 L1093.2,243.4 L1092.7,241.9 L1092.2,240.5 L1091.7,239.1 L1091.2,237.7 L1090.7,236.2 L1090.2,234.8 L1089.7,233.4 L1089.2,232 L1088.6,230.6 L1088.1,229.2 L1087.6,227.8 L1087,226.3 L1086.5,224.9 L1085.9,223.5 L1085.4,222.1 L1084.8,220.8 L1084.3,219.4 L1083.7,218 L1083.2,216.6 L1082.6,215.2 L1082,213.8 L1081.4,212.4 L1080.9,211.1 L1080.3,209.7 L1079.7,208.3 L1079.1,207 L1078.5,205.6 L1077.9,204.2 L1077.3,202.9 L1076.7,201.5 L1076.1,200.2 L1075.5,198.8 L1074.9,197.5 L1074.3,196.1 L1073.7,194.8 L1073.1,193.5 L1072.5,192.1 L1071.9,190.8 L1071.3,189.5 L1070.7,188.2 L1070,186.9 L1069.4,185.6 L1068.8,184.2 L1068.2,182.9 L1067.5,181.6 L1066.9,180.3 L1066.3,179.1 L1065.6,177.8 L1065,176.5 L1064.3,175.2 L1063.7,173.9 L1063,172.7 L1062.4,171.4 L1061.7,170.2 L1061.1,168.9 L1060.4,167.6 L1059.8,166.4 L1059.1,165.2 L1059.1,165.2 L892.5,165.2 L892.5,165.2 L892.5,166.4 L892.5,167.6 L892.5,168.9 L892.5,170.2 L892.5,171.4 L892.5,172.7 L892.5,173.9 L892.5,175.2 L892.5,176.5 L892.5,177.8 L892.5,179.1 L892.5,180.3 L892.5,181.6 L892.5,182.9 L892.5,184.2 L892.5,185.6 L892.5,186.9 L892.5,188.2 L892.5,189.5 L892.5,190.8 L892.5,192.1 L892.5,193.5 L892.5,194.8 L892.5,196.1 L892.5,197.5 L892.5,198.8 L892.5,200.2 L892.5,201.5 L892.5,202.9 L892.5,204.2 L892.5,205.6 L892.5,207 L892.5,208.3 L892.5,209.7 L892.5,211.1 L892.5,212.4 L892.5,213.8 L892.5,215.2 L892.5,216.6 L892.5,218 L892.5,219.4 L892.5,220.8 L892.5,222.1 L892.5,223.5 L892.5,224.9 L892.5,226.3 L892.5,227.8 L892.5,229.2 L892.5,230.6 L892.5,232 L892.5,233.4 L892.5,234.8 L892.5,236.2 L892.5,237.7 L892.5,239.1 L892.5,240.5 L892.5,241.9 L892.5,243.4 L892.5,244.8Z" fill="#f6f7d6"/>
<path d="M1093.7,244.8 L1294.9,244.8 L1294.9,244.8 L1294,243.4 L1293,241.9 L1292,240.5 L1291,239.1 L1290,237.7 L1289,236.2 L1287.9,234.8 L1286.9,233.4 L1285.8,232 L1284.8,230.6 L1283.7,229.2 L1282.7,227.8 L1281.6,226.3 L1280.5,224.9 L1279.4,223.5 L1278.3,222.1 L1277.2,220.8 L1276.1,219.4 L1274.9,218 L1273.8,216.6 L1272.7,215.2 L1271.5,213.8 L1270.4,212.4 L1269.2,211.1 L1268.1,209.7 L1266.9,208.3 L1265.7,207 L1264.6,205.6 L1263.4,204.2 L1262.2,202.9 L1261,201.5 L1259.8,200.2 L1258.6,198.8 L1257.4,197.5 L1256.2,196.1 L1255,194.8 L1253.7,193.5 L1252.5,192.1 L1251.3,190.8 L1250,189.5 L1248.8,188.2 L1247.6,186.9 L1246.3,185.6 L1245.1,184.2 L1243.8,182.9 L1242.5,181.6 L1241.3,180.3 L1240,179.1 L1238.7,177.8 L1237.5,176.5 L1236.2,175.2 L1234.9,173.9 L1233.6,172.7 L1232.3,171.4 L1231,170.2 L1229.7,168.9 L1228.4,167.6 L1227,166.4 L1225.7,165.2 L1225.7,165.2 L1059.1,165.2 L1059.1,165.2 L1059.8,166.4 L1060.4,167.6 L1061.1,168.9 L1061.7,170.2 L1062.4,171.4 L1063,172.7 L1063.7,173.9 L1064.3,175.2 L1065,176.5 L1065.6,177.8 L1066.3,179.1 L1066.9,180.3 L1067.5,181.6 L1068.2,182.9 L1068.8,184.2 L1069.4,185.6 L1070,186.9 L1070.7,188.2 L1071.3,189.5 L1071.9,190.8 L1072.5,192.1 L1073.1,193.5 L1073.7,194.8 L1074.3,196.1 L1074.9,197.5 L1075.5,198.8 L1076.1,200.2 L1076.7,201.5 L1077.3,202.9 L1077.9,204.2 L1078.5,205.6 L1079.1,207 L1079.7,208.3 L1080.3,209.7 L1080.9,211.1 L1081.4,212.4 L1082,213.8 L1082.6,215.2 L1083.2,216.6 L1083.7,218 L1084.3,219.4 L1084.8,220.8 L1085.4,222.1 L1085.9,223.5 L1086.5,224.9 L1087,226.3 L1087.6,227.8 L1088.1,229.2 L1088.6,230.6 L1089.2,232 L1089.7,233.4 L1090.2,234.8 L1090.7,236.2 L1091.2,237.7 L1091.7,239.1 L1092.2,240.5 L1092.7,241.9 L1093.2,243.4 L1093.7,244.8Z" fill="#df3b2e"/>
<path d="M559.3,165.2 L725.9,165.2 L725.9,165.2 L726.6,163.9 L727.3,162.7 L727.9,161.5 L728.6,160.3 L729.3,159.1 L730,157.8 L730.7,156.6 L731.4,155.4 L732.1,154.3 L732.9,153.1 L733.6,151.9 L734.3,150.7 L735.1,149.5 L735.9,148.4 L736.6,147.2 L737.4,146.1 L738.2,144.9 L739,143.8 L739.8,142.6 L740.6,141.5 L741.4,140.4 L742.3,139.3 L743.1,138.2 L743.9,137.1 L744.7,136 L745.6,135 L746.4,133.9 L747.2,132.9 L748.1,131.9 L748.9,130.9 L749.7,129.9 L750.5,128.9 L751.3,127.9 L752.1,127 L752.9,126.1 L753.7,125.2 L754.4,124.3 L755.2,123.4 L756,122.6 L756.7,121.7 L757.5,120.9 L758.2,120.1 L758.9,119.4 L759.7,118.6 L760.4,117.9 L761.1,117.2 L761.8,116.5 L762.4,115.8 L763.1,115.2 L763.8,114.5 L764.4,113.9 L765,113.4 L765.7,112.8 L766.3,112.3 L766.9,111.8 L767.5,111.3 L768,110.8 L768.6,110.4 L769.1,110 L769.1,110 L645.7,110 L645.7,110 L644.7,110.4 L643.5,110.8 L642.4,111.3 L641.2,111.8 L640.1,112.3 L638.8,112.8 L637.6,113.4 L636.3,113.9 L635,114.5 L633.7,115.2 L632.4,115.8 L631,116.5 L629.7,117.2 L628.3,117.9 L626.8,118.6 L625.4,119.4 L623.9,120.1 L622.5,120.9 L621,121.7 L619.5,122.6 L617.9,123.4 L616.4,124.3 L614.8,125.2 L613.3,126.1 L611.7,127 L610.1,127.9 L608.5,128.9 L606.9,129.9 L605.2,130.9 L603.6,131.9 L602,132.9 L600.3,133.9 L598.7,135 L597,136 L595.3,137.1 L593.7,138.2 L592,139.3 L590.4,140.4 L588.7,141.5 L587.1,142.6 L585.5,143.8 L583.9,144.9 L582.3,146.1 L580.7,147.2 L579.2,148.4 L577.7,149.5 L576.2,150.7 L574.7,151.9 L573.2,153.1 L571.8,154.3 L570.3,155.4 L568.9,156.6 L567.5,157.8 L566.1,159.1 L564.7,160.3 L563.4,161.5 L562,162.7 L560.7,163.9 L559.3,165.2Z" fill="#f6f7d6"/>
<path d="M1059.1,165.2 L1225.7,165.2 L1225.7,165.2 L1224.3,163.9 L1223,162.7 L1221.6,161.5 L1220.3,160.3 L1218.9,159.1 L1217.5,157.8 L1216.1,156.6 L1214.7,155.4 L1213.2,154.3 L1211.8,153.1 L1210.3,151.9 L1208.8,150.7 L1207.3,149.5 L1205.8,148.4 L1204.3,147.2 L1202.7,146.1 L1201.1,144.9 L1199.5,143.8 L1197.9,142.6 L1196.3,141.5 L1194.6,140.4 L1193,139.3 L1191.3,138.2 L1189.7,137.1 L1188,136 L1186.3,135 L1184.7,133.9 L1183,132.9 L1181.4,131.9 L1179.8,130.9 L1178.1,129.9 L1176.5,128.9 L1174.9,127.9 L1173.3,127 L1171.7,126.1 L1170.2,125.2 L1168.6,124.3 L1167.1,123.4 L1165.5,122.6 L1164,121.7 L1162.5,120.9 L1161.1,120.1 L1159.6,119.4 L1158.2,118.6 L1156.7,117.9 L1155.3,117.2 L1154,116.5 L1152.6,115.8 L1151.3,115.2 L1150,114.5 L1148.7,113.9 L1147.4,113.4 L1146.2,112.8 L1144.9,112.3 L1143.8,111.8 L1142.6,111.3 L1141.5,110.8 L1140.3,110.4 L1139.3,110 L1139.3,110 L1015.9,110 L1015.9,110 L1016.4,110.4 L1017,110.8 L1017.5,111.3 L1018.1,111.8 L1018.7,112.3 L1019.3,112.8 L1020,113.4 L1020.6,113.9 L1021.2,114.5 L1021.9,115.2 L1022.6,115.8 L1023.2,116.5 L1023.9,117.2 L1024.6,117.9 L1025.3,118.6 L1026.1,119.4 L1026.8,120.1 L1027.5,120.9 L1028.3,121.7 L1029,122.6 L1029.8,123.4 L1030.6,124.3 L1031.3,125.2 L1032.1,126.1 L1032.9,127 L1033.7,127.9 L1034.5,128.9 L1035.3,129.9 L1036.1,130.9 L1036.9,131.9 L1037.8,132.9 L1038.6,133.9 L1039.4,135 L1040.3,136 L1041.1,137.1 L1041.9,138.2 L1042.7,139.3 L1043.6,140.4 L1044.4,141.5 L1045.2,142.6 L1046,143.8 L1046.8,144.9 L1047.6,146.1 L1048.4,147.2 L1049.1,148.4 L1049.9,149.5 L1050.7,150.7 L1051.4,151.9 L1052.1,153.1 L1052.9,154.3 L1053.6,155.4 L1054.3,156.6 L1055,157.8 L1055.7,159.1 L1056.4,160.3 L1057.1,161.5 L1057.7,162.7 L1058.4,163.9 L1059.1,165.2Z" fill="#fcfcf1"/>
</g>
<g fill="none" stroke="#666666" stroke-width="2.5" stroke-linejoin="round" stroke-linecap="round">
<path d="M1525.4,305.6 L1525.9,313.9 L1523.9,315.6 L1520.3,320.4 L1522.8,329.2 L1524.8,331.8 L1521.1,339.7 L1516.4,344 L1513.1,348.4 L1513.5,355.4 L1510.7,358.9 L1509.6,367.2 L1510,370.7 L1514.4,377.7 L1516.6,383.8 L1516.9,391.7 L1515.7,397.4 L1514.4,398.2 L1518,403.9 L1519.2,408.7 L1524.3,412.2 L1527.9,416.2 L1533.9,421 L1537.8,428.4 L1544,432.8 L1550.2,438.5 L1558.3,443.3 L1565.8,440.2 L1575.4,440.2 L1583.1,439.8"/>
<path d="M202.2,436.3 L208.1,435 L215.8,435 L220.2,443.7 L224.8,443.3 L230.7,442.4 L234.3,445.9 L235.2,451.6 L233.8,458.1 L233,464.7 L231.9,469.1 L238,475.6 L243.4,483.5 L245.7,488.7 L249.2,497.5 L252.4,508.4 L254.1,515 L250.5,521.5 L250,532.4 L251.5,539 L256.1,545.5 L264.1,556.5 L267.7,563 L274.4,578.3 L283.4,587.5 L288.6,593.6 L297.4,604.6 L301.5,611.1 L308.9,614.6 L314.7,611.1 L327.9,611.1 L333.1,607.6 L336.2,602.4 L338.8,595.8 L341.5,588.4 L340.3,578.3 L340.1,575.3 L346.8,569.6 L346,558.7 L342.2,549.9 L346.8,544.7 L353.2,539 L357.7,532.4 L358.9,525.9 L356.4,510.6 L351.3,497.5 L349.6,490.9 L350.4,484.4 L353.8,473.4 L357.5,469.9 L363.2,460.3 L371.1,453.8 L379.2,442.8 L385.6,431.9 L390.2,423.2 L395.8,416.6 L398.3,410.9 L389.2,413.1 L377.4,415.7 L369.7,416.6 L367.6,410.9 L365.2,405.7 L362,401.3 L357.3,394.7 L354.6,393 L353.7,383.8 L351.2,377.3 L351.5,370.7 L351.3,366.3 L347.9,359.8 L347.4,353.2 L346,345.4 L345.8,340.1 L345.6,331.8 L347,325.7 L338.5,325.7 L330.7,326.6 L321.3,324.4 L315.1,320.4 L310.4,318.7 L303,322.6 L300.9,327 L295.9,330.1 L291.7,327 L285.8,323.9 L286,321.3 L279.2,318.7 L274.4,317.4 L271.1,314.8 L275,311.7 L277.8,308.6 L279,303 L282.1,300.8 L278.6,299.5 L272.8,301.2 L266.1,300.4 L259.9,301.7 L252.6,301.7 L244.6,303"/>
<path d="M1542.6,306.5 L1539.9,309.1 L1533.1,308.6 L1525.4,305.6"/>
<path d="M345.6,331.8 L346.7,338.8 L348.1,341 L353.4,333.6 L350.1,339.7 L352.8,342.7 L354.2,348.9 L356,356.3 L359.1,358.9 L359,369.4 L362.1,374.2 L364.7,380.3 L367.4,387.8 L368.3,391.3 L367.9,397.8 L368,404.8 L368.8,407.4 L372.7,407 L377.3,404.4 L387.6,401.7 L393.5,398.2 L404.3,393 L407.8,389.9 L417.3,385.6 L423.1,381.2 L427.6,379 L428.9,374.2 L431.7,373.3 L433.8,370.3 L438.3,364.2 L435.1,359.3 L430.5,358 L427.7,353.7 L427.9,348.4 L424.5,351.5 L417.9,357.2 L412.3,356.7 L409.4,355 L410.7,349.7 L408.6,348.9 L406.6,354.1 L405.2,350.6 L405.3,348.9 L403.5,344.5 L402.5,341.4 L401.4,335.7 L402.9,331.4 L406.7,330.1 L408.8,331.4 L410.8,330.9 L412.9,340.5 L416.2,341.9 L418.9,345.4 L423.1,346.7 L427.3,344.9 L430.3,343.6 L432,344 L432.3,350.2 L436.3,350.6 L440.3,351.5 L447.1,352.8 L458.5,352.4 L465.8,351.5 L468.2,358 L471,358.9 L474.5,362.8 L475.4,364.2 L473.5,365.9 L477.6,371.1 L480.2,371.6 L485.9,369 L485.9,373.3 L485.1,378.6 L485.7,392.6 L488.8,401.3 L489.3,407 L491.8,413.1 L493,417.5 L494.5,423.6 L497.7,427.1 L501,423.6 L503.5,421 L505.3,417.5 L507.8,414.4 L510.2,405.7 L510,396.5 L511.6,393 L514.2,393.4 L519.5,388.2 L526.7,382.5 L531.7,377.3 L537.8,374.2 L540.5,368.5 L548.2,367.2 L552.1,366.8 L554.5,362.8 L559.1,365.5 L559.2,369.8 L560.4,372 L563.9,377.3 L567.8,379.5 L565.5,386 L565.1,392.6 L569.2,393.9 L573.7,390.8 L576.7,388.6 L577.8,392.1 L578,397.4 L578.8,405.7 L580.4,410 L579.2,415.7 L578,422.7 L578.7,425.8 L583,432.8 L585.1,436.3 L584.6,439.3 L585.3,444.1 L588.6,449.8 L592.8,452.9 L597,456.8 L599.7,456.8 L598.6,451.6 L596.8,445.9 L596.9,441.1 L592.1,435.4 L588,432.3 L586.1,430.2 L585.6,426.2 L584.2,422.3 L581.8,417.5 L585.5,408.7 L586.2,403.9 L589.3,403.5 L589.1,407 L595.4,409.2 L598.4,416.2 L601.5,416.6 L604.5,417.5 L603.2,419.2 L603,424.9 L609.3,421 L612.6,417 L617.4,414.4 L621,410.9 L621.1,403.9 L618.4,394.7 L615.5,389.5 L612.2,383.8 L610.4,379.5 L613.7,373.8 L615.9,370.7 L621.9,367.6 L625.4,370.7 L627.4,373.3 L628.9,369.8 L634.4,368.1 L639.9,366.3 L643.7,365.5 L650.4,362.8 L656.1,359.3 L661.8,355 L665.8,350.2 L669.6,344 L675.1,339.2 L677.7,331.8 L675.3,328.3 L677.6,327.4 L678.2,323.9 L675.2,320 L674.4,312.6 L671.9,309.1 L677.1,304.7 L682.9,301.2 L685.2,299 L679.4,297.3 L674.9,299.9 L672.2,299 L669.8,296.9 L668.4,293.8 L670.8,291.2 L677,288.2 L683.4,283.8 L687.6,285.6 L684.5,287.7 L681.6,292.5 L685.5,291.2 L688.8,289.5 L694.1,288.2 L696.9,289.9 L693.8,296 L695.6,297.7 L698.4,297.7 L699.6,300.8 L697.7,307.3 L697.2,312.1 L703,310 L708.1,308.2 L709.7,300.8 L707.1,293.8 L705.3,289 L709.1,287.7 L714.2,283.8 L719.1,277.8 L724.1,274.3 L727.6,275.6 L739.2,270.4 L750.5,258 L756.8,252 L760,244.8 L763.8,235.5 L766.2,230.9 L761,227.2 L754,228.9 L753.6,226.8 L747.3,225.1 L753.4,223.1 L758.6,218.1 L768.1,212.4 L774.8,207.6 L785.4,206 L794.7,206.4 L805.3,207.6 L812.7,204.4 L822.6,197.2 L832.5,196 L830.9,198.8 L836.8,202.4 L831,206.4 L824.9,211.6 L819.4,212.4 L815.9,216.5 L813.1,226 L813.2,236.4 L814.9,240.6 L821.9,232.6 L827.4,228 L833.6,222.7 L835.3,219.4 L839.6,212.8 L835.9,211.6 L841.5,204.4 L845.5,204.4 L850.4,202 L862.5,204 L873.1,196.8 L885,193.6 L888.1,185.5 L892.5,183.9"/>
<path d="M892.5,183.9 L896.3,182.4 L907.1,183.2 L913.2,186.2 L914.4,181.6 L920,179.3 L915.5,176.7 L909.7,175.2 L901,170.7 L892.5,169.2"/>
<path d="M892.5,169.2 L881.4,165.9 L866.2,164.8 L859.1,165.9 L850.7,166.6 L838.1,166.6 L836.1,162.3 L829.4,161.5 L815.6,161.9 L810.7,159.7 L798,156.9 L787.9,155.1 L780.7,159.7 L770,159.4 L758.1,161.5 L755.2,156.2 L751.7,152.7 L741.5,152 L728,152.3 L712.3,152 L715.7,150.9 L721.8,144.5 L717.6,141.8 L706.7,139.8 L703.7,138.5 L689.1,142.4 L674.7,144.1 L650.6,147.5 L645.8,150.9 L628.5,152.3 L618.9,156.5 L614.5,156.9 L608.5,156.2 L605,155.1 L599.4,159.7 L593.5,165.2 L592.2,170.7 L587.1,172.5 L574.7,178.2 L577.5,170.7 L582.7,162.6 L592.3,156.2 L597,154.4 L601.9,154.8 L581.5,165.2 L576.3,167 L567.8,167.7 L561.1,165.5 L558.1,166.3 L549.4,169.2 L538.7,169.9 L533.3,171.1 L513.3,173.7 L512.6,171.8 L506.8,170.7 L506.1,173.3 L497.9,179.7 L494.9,178.6 L485.2,182 L479.4,185.8 L467.9,188.2 L464,185.8 L469.3,178.2 L474.2,178.9 L481.5,180.1 L491.8,177.4 L495.2,173.3 L489.4,168.8 L481,167.7 L478.8,165.2 L477.5,164.1 L475.5,161.5 L469.2,161.2 L459.7,163 L449.6,165.2 L443,165.9 L433.7,168.5 L426.3,170.7 L416.8,174.4 L405.7,180.1 L392.3,185.8 L381.2,189.7 L372.5,192.9 L363.8,195.6 L357.6,199.6 L352.5,203.6 L348.8,208 L347.6,211.2 L352.3,211.2 L361.4,207.6 L366.7,205.6 L365.6,208 L362.4,212.8 L358.4,218.5 L355.2,222.2 L363,219.8 L371.8,217.3 L379.2,211.6 L387.6,207.6 L395.1,203.6 L392.7,201.2 L397.6,197.6 L405.6,192.9 L415.4,189.3 L424.9,185.1 L432.7,181.2 L439.9,180.9 L440.1,182.8 L435.6,184.3 L424.4,188.6 L414.4,193.2 L411.5,196.4 L406.7,200.8 L407.6,204 L420.6,202 L427.4,202.8 L429.2,204 L421.3,205.6 L414,205.2 L406,206.8 L403.7,208.8 L405,210.4 L400,214.5 L396.2,215.7 L396.9,212.4 L389.8,215.7 L384.2,219.8 L379.5,223.9 L372.1,226.4 L369,224.7 L359.9,227.2 L352.1,228.4 L349.4,226.4 L342.4,228 L342.5,224.7 L344,223.9 L352.9,218.5 L351.6,217.7 L355.9,214.9 L356.2,213.2 L349.1,215.3 L344.9,217.7 L341.8,221.8 L335.6,228 L332.8,229.7 L327.4,230.1 L321.6,230.9 L317.2,232.6 L311.9,236.4 L306.9,238.9 L301.9,240.2 L298.1,241 L294.7,244 L287,247.3"/>
<path d="M1492.7,246.1 L1496.5,250.7 L1491,249.9 L1488.1,251.2 L1489.4,253.7 L1500.3,257.1 L1507.9,261.8 L1513.5,268.3 L1516.5,273 L1507.7,273 L1500,272.1 L1492.7,271.7 L1490.6,274.7 L1495.7,279.1 L1501.2,286.9 L1503.2,292.9 L1506,293.4 L1510.5,300.8 L1515,299.9 L1520.4,301.7 L1525.1,305.1 L1527.2,302.1 L1536.2,302.1 L1538.4,298.2"/>
<path d="M251.5,287.7 L257.7,283.4 L262.6,282.5 L269.2,279.5 L272.4,274.7 L279.4,272.6 L285,274.3 L290.9,271.3 L298.2,268.7 L300.7,270.9 L298.6,274.7 L298.7,276.9 L300.7,281.2 L303.8,284.3 L305.5,286.9 L306.3,289.9 L302.3,295.6 L302.8,296.4 L309.3,292.5 L308.8,289.9 L313.6,285.6 L317.7,287.3 L317.4,285.1 L312.8,281.7 L310,278.2 L311.2,272.6 L309,270.4 L313.2,264.4 L319.1,263.1 L320.1,265.3 L319.5,270.4 L322.1,273.9 L325.1,276.9 L326,279.9 L322.4,285.6 L322,289.9 L322.3,295.1 L321.3,298.6 L320.6,303 L324.2,303 L327.5,297.3 L332.1,295.6 L330.7,292.1 L332,287.7 L334.9,285.6 L339.3,284.3 L346.4,284.3 L347.9,285.1 L354,283.4 L355.8,280.8"/>
<path d="M344.8,287.7 L341.6,294.7 L341.7,300.8 L346.2,302.5 L351.4,303 L357.7,304.7 L363.6,303.8 L368.3,301.7 L371.3,303 L368.7,307.3 L363.9,314.3 L359.4,319.1 L354,325.7 L347,325.7"/>
<path d="M344.8,287.7 L348.8,286 L357.3,283.8 L358.5,282.5"/>
<path d="M355.8,280.8 L358.5,282.5 L364.9,283 L376.3,279.1 L382.3,279.1 L386.4,282.1 L390.3,283.8 L396.3,283.8 L403.2,281.2 L406.9,276.5 L403.1,273 L399.7,268.7 L396.9,265.3 L392.4,265.7 L384,268.3 L383,264.4 L388.6,261.8 L383,260.5 L380.5,259.7 L372.6,264.8 L366.4,269.1 L360.9,273.4 L357.7,276.5 L355.8,280.8"/>
<path d="M392.4,265.7 L397.1,264.4 L407.5,258 L405,257.1 L394.3,260.5 L392.4,262.3 L392.4,265.7"/>
<path d="M443,259.7 L451.2,257.6 L457.5,258.4 L454.2,264.8 L445.5,268.3 L442.3,267.8 L441.6,274.7 L444,279.1 L442.2,283.4 L444.5,285.1 L439.1,289.9 L437.7,299.5 L429.8,301.7 L423.8,299 L421.5,296.4 L422.9,292.9 L426.6,288.6 L429.3,285.6 L429,279.9 L428.3,274.7 L431.5,269.6 L431.4,267 L436.8,264 L443,259.7"/>
<path d="M1477,244.8 L1480.4,243.1 L1483.1,241.8 L1489.4,241.4"/>
<path d="M298.7,239.7 L300.1,237.2 L306.4,233.4 L305.1,230.5"/>
<path d="M1477.4,228 L1471.3,225.5 L1465.2,221.4 L1461.9,219.8 L1458.2,218.5 L1455.1,213.6 L1445.2,209.2 L1439.6,209.2 L1441,212.4 L1448.5,218.1 L1447.1,218.5 L1453.8,221 L1458.1,224.7 L1462.7,224.3 L1468.8,228.4 L1471.1,230.5 L1466.3,230.9 L1469.9,233 L1472.5,235.1 L1471.4,237.2 L1475.7,238.5 L1480.1,238.9 L1479,239.7 L1475.2,240.6 L1477,244.8"/>
<path d="M1466.6,235.5 L1458.3,228.4 L1457.4,225.5 L1451.8,222.7 L1447.6,222.7 L1446.5,223.9 L1447.8,226 L1444.6,227.2 L1448.9,230.5 L1452.4,231.4 L1454.2,236 L1454.5,237.2 L1458.1,238.5 L1461.8,237.2 L1465.3,235.5 L1466.6,235.5"/>
<path d="M1361.1,187.8 L1350.9,184.3 L1352.4,182 L1347.5,181.6 L1348,178.6 L1362.5,179.7 L1370.2,178.9 L1375.7,182 L1380.4,183.5 L1380.2,186.2 L1373.9,190.1 L1361.6,188.2 L1361.1,187.8"/>
<path d="M289.3,297.3 L302.2,295.1 L296.1,302.1 L289.3,297.3"/>
<path d="M278.4,292.1 L283.3,291.2 L289.6,283.4 L283.6,283.8 L278.4,292.1"/>
<path d="M286.6,281.7 L289.4,281.7 L295.1,274.7 L289.9,277.3 L286.6,281.7"/>
<path d="M323.1,308.2 L333.3,308.2 L331.6,309.5 L324.3,309.5 L323.1,308.2"/>
<path d="M353.9,310.8 L360.7,309.5 L364.4,306.5 L357.7,308.2 L354.7,309.1 L353.9,310.8"/>
<path d="M476.5,136 L477.1,139.2 L477.5,142.1 L491.6,138.2 L503,135.6 L502.7,132.9 L513.7,132.3 L525.8,131.1 L517,129.6 L501.2,131.4 L484.1,132.6 L476.5,136"/>
<path d="M543.1,160.1 L547.9,163 L555.2,162.6 L556.5,158 L561.1,153.4 L573.2,148.2 L588.5,143.4 L604.5,141.1 L610.8,141.1 L592.1,146.5 L577.2,150.9 L565.4,156.2 L557.7,159.7 L547.9,163"/>
<path d="M574,129.6 L582,130.5 L590.2,129.9 L584.6,129 L574,129.6"/>
<path d="M679.5,132.9 L688.2,136 L697.2,134.4 L707.9,136 L706.1,132.9 L702.1,129.9 L694.2,128.5 L679.5,132.9"/>
<path d="M781,146.8 L787.7,149.2 L796.3,147.5 L802.1,145.8 L792.6,144.1 L781,146.8"/>
<path d="M892.5,159.7 L898,161.5 L900.7,159.4 L892.5,159.7"/>
<path d="M889.8,161.5 L892.5,159.7"/>
<path d="M712.9,313.9 L719.8,307.8 L727.2,306.9 L732.8,306 L736.1,300.8 L738.6,298.6 L738.1,301.7 L744.2,297.3 L748.5,292.9 L750.1,287.7 L752,282.5 L756.1,281.7 L757,289 L752.5,295.1 L751.2,301.2 L750.1,306.5 L746.8,309.5 L744.1,308.2 L742.2,311.3 L735.6,311.3 L734.7,312.6 L730.5,316.1 L728.5,312.6 L727,310.4 L720.9,312.1 L716.2,313.9 L712.9,313.9"/>
<path d="M751.2,281.2 L754.9,279.9 L757.7,276.5 L762.8,279.1 L771.8,273.9 L771.8,269.1 L765.5,269.6 L761,264 L759.1,268.7 L757.4,273.9 L754,273.4 L751.5,277.3 L751.2,281.2"/>
<path d="M708.4,316.9 L712.9,314.3 L715.6,318.3 L713.1,325.2 L709.9,327 L708.7,324.8 L709.8,320 L708.4,316.9"/>
<path d="M718.1,318.3 L720.6,313.9 L725.6,312.6 L726.7,314.8 L724.6,316.9 L720.9,316.9 L718.1,318.3"/>
<path d="M761.7,261.8 L767.3,259.3 L766.9,249 L772.6,249 L770.7,237.2 L771.6,230.1 L770.8,226.8 L769.2,229.3 L766.3,236.4 L765.1,244.8 L763.4,251.2 L761.7,261.8"/>
<path d="M666.4,362 L668.2,366.3 L671.6,362.8 L674.4,353.2 L672.3,351.9 L669.3,355.8 L666.4,362"/>
<path d="M621.2,378.6 L624.1,382.9 L628.1,381.2 L630.5,376.4 L628.4,374.6 L624.2,375.1 L621.2,378.6"/>
<path d="M666.5,381.6 L672.6,381.6 L672.1,388.2 L669.4,393 L670,400.9 L678,402.2 L678,407.9 L675.1,405.7 L670.3,402.2 L665.3,401.7 L665.1,399.6 L663.1,394.7 L663,391.3 L664.5,392.1 L666.5,381.6"/>
<path d="M668.9,431.9 L674.8,428.4 L676.1,424.9 L682.3,423.2 L686.1,424.9 L686.3,431.9 L684.7,435.4 L681.9,438 L677.3,435.4 L676.3,431 L670.9,432.3 L668.9,431.9"/>
<path d="M678.8,407.9 L683.3,408.7 L683.8,414.4 L681,418.4 L678.8,414.9 L678.8,407.9"/>
<path d="M669.8,410.9 L673.9,414.4 L672.9,418.8 L669.5,416.6 L669.8,410.9"/>
<path d="M650.7,425.8 L655.9,421 L660.1,413.1 L658.1,415.3 L650.7,425.8"/>
<path d="M673.4,414.9 L675.1,421 L673.1,423.2 L671.3,419.7 L673.4,414.9"/>
<path d="M618.2,455.9 L620.6,453.8 L626.8,451.6 L633.8,448.5 L638.6,442.4 L643.7,439.8 L648.5,432.3 L652.2,436.3 L657.9,439.3 L654.8,441.1 L652.8,444.6 L651.2,449.4 L653,458.1 L656.8,458.6 L651,462.5 L647.6,469.1 L647.3,473.4 L645.4,478.7 L641.2,480.4 L639.6,477.8 L633.8,476.1 L628.8,475.6 L623,475.2 L622.5,469.5 L619.3,464.7 L618.2,460.8 L618.2,455.9"/>
<path d="M565.8,438.5 L574.2,439.8 L577.5,444.1 L585.1,452.9 L589.7,455.1 L595,460.3 L598.1,466.9 L600.9,470.4 L606,475.6 L606.9,482.2 L606.3,487.9 L602.1,488.3 L596.9,483.5 L591.3,476.9 L587,471.2 L580.7,461.6 L578.1,454.6 L572.8,448.1 L569.8,445.5 L565.8,438.5"/>
<path d="M606.9,492.2 L607.5,488.3 L612.1,488.3 L616.8,490.5 L624.6,492.7 L632.7,492.7 L639.7,495.7 L639.9,499.7 L632.6,499.2 L625.2,497.9 L617,496.6 L608.9,494.8 L606.9,492.2"/>
<path d="M659.1,486.5 L662.6,486.5 L662.4,477.8 L666,483.5 L671.5,486.5 L668.5,475.6 L673.5,466.9 L666.5,466.4 L660.7,460.3 L664.6,456.8 L676.1,459 L680.8,455.9 L678.1,460.8 L672.3,460.3 L663.8,460.3 L659.9,462.9 L658.9,477.8 L659.1,486.5"/>
<path d="M703.2,468.2 L709,464.2 L714.8,466.4 L716.8,474.7 L720.7,477.4 L728.3,469.1 L738,473 L749.6,476.9 L757.4,482.6 L761.3,486.5 L767.9,489.6 L766.1,494.8 L770.4,500.1 L777.1,507.5 L769.4,507.1 L761.5,497.5 L754.6,495.7 L751.2,501.8 L748.2,503.2 L742.4,502.3 L734.6,497.9 L730.8,499.2 L729.1,495.7 L732.5,491.8 L722.7,482.6 L714.9,479.5 L710.3,480.4 L706.7,474.3 L711,473 L707.9,472.1 L703.2,468.2"/>
<path d="M642.3,501 L644.9,499.2 L642.9,497.9 L640.2,498.8 L642.3,501"/>
<path d="M646.1,501 L648.7,498.8 L647.2,498.8 L646.1,501"/>
<path d="M649.2,501.8 L657.6,500.1 L655.6,498.3 L649.9,499.2 L649.2,501.8"/>
<path d="M660.7,501 L673,498.8 L669.1,497.5 L661.4,498.8 L660.7,501"/>
<path d="M675.3,507.5 L680.8,502.7 L689.2,499.2 L680.8,501 L675.3,507.5"/>
<path d="M690.9,455.9 L693.5,458.1 L692.4,462.5 L691.6,466 L689.6,462.5 L690.9,455.9"/>
<path d="M684,476.5 L688.7,478.7 L687.1,475.6 L684,476.5"/>
<path d="M691.7,476.9 L701.4,477.8 L697.5,474.7 L691.7,476.9"/>
<path d="M776.8,486.5 L784.5,484.4 L782.5,480.9 L785.6,480 L778.7,490 L771,488.7 L776.8,486.5"/>
<path d="M506.1,435.4 L506.9,427.5 L507.8,419.7 L512.4,425.3 L514.1,429.7 L513.1,434.1 L508.4,436.7 L506.1,435.4"/>
<path d="M390.8,515 L397.3,529.4 L394.8,532.4 L395.1,540.7 L393.3,558.7 L392.7,571.3 L386.3,574 L378.1,565.2 L375.1,556.9 L377.9,549.9 L374,537.7 L381.6,531.1 L386.5,526.3 L388.5,521.5 L390.8,515"/>
<path d="M643.2,557.8 L652.5,552.5 L659.2,551.2 L668.4,547.7 L672.5,542.1 L672.4,536.8 L677.1,537.7 L677.9,533.3 L682.1,528.1 L687.6,523.7 L693.6,528.1 L699.3,528.1 L701.5,519.3 L703.7,516.7 L710.2,515 L710.4,512.8 L714,514.1 L719.8,515.8 L725.5,514.5 L726.7,516.3 L723.1,521.1 L722.2,527.2 L728.2,531.6 L734.2,535.9 L737.4,538.6 L743.1,538.6 L745.2,528.1 L745.2,519.3 L746.5,510.6 L748.4,509.3 L752.5,517.1 L752.7,523.7 L759.7,527.6 L760.4,533.7 L764,545.1 L774.2,551.7 L777.2,560.4 L782.2,561.3 L785.5,567.8 L791.4,573.1 L794,585.8 L793,598 L791.4,605 L787.5,610.7 L784,622.5 L784.4,626.4 L778.4,627.7 L771.9,632.9 L766.2,628.1 L761.8,632.1 L750.8,628.6 L746.8,625.5 L745.6,619.9 L740.3,618.1 L741,613.3 L738.5,615.9 L737.1,611.6 L738,606.7 L735,609.4 L731.8,615 L729,613.3 L723.9,605.9 L712.8,600.2 L704,601.1 L694.1,603.2 L686.2,610.7 L675.2,610.7 L666.8,615.9 L661.6,615.5 L655,612 L656.7,608.1 L655.3,600.6 L651,591.4 L648.8,587.1 L643,578.3 L643.6,571.8 L641.8,569.2 L642.7,560.8 L643.2,557.8"/>
<path d="M767.3,640.3 L780.1,641.2 L780.1,648.1 L777.2,652.4 L773.8,652.9 L770.4,647.2 L767.3,640.3"/>
<path d="M865.8,612.9 L871.8,616.8 L874.4,623.3 L877.7,624.2 L881.7,628.1 L887.1,627.3 L885.3,633.8 L881.8,636 L880.1,639.4 L875.6,644.2 L873.8,642.9 L874.7,637.3 L871.1,634.2 L873.1,628.6 L872.6,623.8 L867,616.4 L865.8,612.9"/>
<path d="M866.6,639.4 L872.3,642.9 L870.7,648.1 L867.3,652.4 L862.9,655.9 L860.1,662.7 L855.8,665.7 L846.4,663.2 L847.5,659.3 L851.7,654.6 L859.2,650.3 L862.5,644.6 L864.5,641.2 L866.6,639.4"/>
<path d="M831.8,550.8 L843.4,560 L841.5,560.8 L832.6,553 L831.8,550.8"/>
<path d="M798,489.6 L803.9,494.4 L800,493.1 L798,489.6"/>
<path d="M805.8,497.5 L813.6,501.8 L807.8,498.8 L805.8,497.5"/>
<path d="M814.8,503.2 L821.4,507.5 L815.6,504.5 L814.8,503.2"/>
<path d="M817.8,499.2 L821.3,504 L819.3,500.1 L817.8,499.2"/>
<path d="M842,528.1 L844,532.4 L842.8,529.4 L842,528.1"/>
<path d="M845.9,533.3 L847.9,535.9 L846.7,534.2 L845.9,533.3"/>
<path d="M517.2,675.1 L522.8,676 L522.6,678.5 L519,678.1 L517.2,675.1"/>
<path d="M882.2,539 L886.8,540.3 L884.9,542.5 L882.2,539"/>
<path d="M930.5,169.2 L938.5,166.3 L945.1,164.1 L956.5,160.5 L969,162.3 L981,164.1 L995.1,164.8 L1001.3,166.6 L1013.3,168.8 L1019.4,166.6 L1026.4,166.6 L1034.1,165.2 L1039.3,164.4 L1046.1,167 L1051.7,167 L1061.1,168.8 L1075.3,169.2 L1082.2,171.4 L1094.2,172.5 L1096.4,169.2 L1105.6,172.5 L1116.3,173.7 L1124.6,173.3 L1127,170.7 L1132.6,172.5 L1131.3,167 L1121.5,159.7 L1126.9,158 L1131.3,165.2 L1138.3,167 L1148.1,168.8 L1157.7,175.5 L1165.5,178.2 L1165.4,174.4 L1170.8,170.7 L1174.7,177.1 L1168.4,180.1 L1168.4,185.8 L1166.9,187.8 L1159.3,189.7 L1157.3,195.6 L1157.6,205.6 L1160.9,208.4 L1170,215.7 L1186.8,219.8 L1198.2,222.7 L1207.2,223.1 L1213.9,232.2 L1225.9,238.5 L1225.7,234.3 L1219.7,226 L1223.4,221.8 L1220.7,215.7 L1211.1,208.8 L1208.8,203.6 L1200.3,194.4 L1209.7,194.8 L1220.1,198.4 L1228.7,199.6 L1235.7,206.4 L1241.4,209.6 L1246.7,210.4 L1248,204.4 L1247.9,202.4 L1264.1,212.4 L1270,217.7 L1282.2,223.1 L1291,228 L1299.8,232.2 L1303.3,236.4 L1300.8,238.9 L1297.4,243.5 L1291,244 L1280.7,243.5 L1273.1,244.8 L1269,249 L1266.9,254.1 L1269,252 L1273.5,248.2 L1282.5,249 L1285.1,251.6 L1281.7,253.3 L1286.6,257.6 L1291.3,261 L1301.4,263.5 L1305.8,262.3 L1301.3,257.6 L1301.9,264.4 L1296.9,267.8 L1292.3,272.1 L1288,268.7 L1290,264.8 L1285.1,265.3 L1284,267.8 L1278.9,268.7 L1275.9,272.1 L1275.5,275.6 L1278.7,279.9 L1280.5,279.9 L1276,281.7 L1271.6,282.1 L1268.8,285.1 L1270.9,289.9 L1268.8,292.5 L1268.6,294.7 L1268,299.5 L1267,300.8 L1271,305.6 L1272.8,308.6 L1270,310.8 L1266,314.3 L1262.3,317.4 L1258.3,321.3 L1257,327 L1258.8,332.2 L1263,338.4 L1266.8,345.4 L1267.1,351.9 L1264.2,352.8 L1260.8,348.4 L1256,341.9 L1254.4,336.6 L1249.5,331.8 L1245.2,332.7 L1238.9,329.6 L1233.2,329.2 L1228.6,330.1 L1229.4,334.9 L1225.4,335.3 L1217.5,333.1 L1211.8,332.7 L1208.5,334.4 L1203.5,339.2 L1201.9,344.5 L1202.1,349.7 L1202.9,357.6 L1203.1,364.2 L1206.2,370.7 L1210.5,378.1 L1215.8,381.2 L1218.7,382.9 L1225.4,381.2 L1230.2,380.8 L1232.2,375.5 L1232.3,370.7 L1238.9,368.5 L1244.5,368.5 L1243.5,375.1 L1243.3,381.6 L1242,386 L1242,392.6 L1244,393.4 L1251.6,393 L1257.3,393 L1262.4,396.9 L1262.6,405.7 L1262.6,414.4 L1265.6,418.8 L1269.7,423.2 L1273.6,424 L1279.2,420.5 L1285,421.8 L1289.1,424.9 L1292,421.8 L1293.8,416.2 L1296.7,414 L1301.6,413.1 L1307,408.7 L1309.5,410.9 L1307.8,413.5 L1309.5,415.3 L1309.8,423.2 L1311.9,421 L1311.4,414.9 L1314.2,412.2 L1316.9,412.2 L1321.4,415.3 L1330.7,416.2 L1337.3,416.2 L1343.4,415.7 L1346.4,415.7 L1345.2,419.2 L1350.7,425.3 L1355.4,425.8 L1360.7,430.6 L1366.1,436.3 L1374.6,436.3 L1378.9,437.1 L1386.5,442.4 L1389.3,444.1 L1392.7,454.2 L1395,455.1 L1394.8,460.3 L1400.6,463.4 L1406.3,465.6 L1414.4,469.5 L1417.7,473.9 L1425.4,474.7 L1433.5,475.2 L1438.8,478.7 L1443.5,483.5 L1450,485.2 L1451.8,493.1 L1450.2,501.8 L1444.6,508.4 L1439.5,515 L1435.1,519.3 L1432.6,523.7 L1429.1,539 L1425,547.7 L1418.7,558.2 L1413.5,562.6 L1403.3,564.3 L1395.4,567.8 L1388.2,574 L1384.8,578.3 L1381.4,587.1 L1374.7,593.6 L1366.4,601.1 L1357.7,609.4 L1352,614.2 L1343.6,615 L1339.2,616.8 L1337.2,611.1 L1338.1,619.4 L1339,621.6 L1332.2,629.4 L1325.4,631.6 L1314.8,632.1 L1311.2,638.1 L1301.4,640.7 L1297.3,645.9 L1299.5,647.2 L1294.3,652.4 L1289,658.9 L1279.7,663.2 L1281.5,669.2 L1271.4,676 L1265,681.5 L1260.7,686.5 L1260.2,690.3 L1253.5,692.4 L1247.7,696.1 L1243.9,694.5 L1242.8,688.6 L1244.6,680.2 L1247.4,671.7 L1254.9,663.2 L1261.7,654.6 L1266.7,648.1 L1268.7,641.6 L1273.3,632.9 L1278.2,624.2 L1285.2,615.5 L1290.4,606.7 L1295.3,593.6 L1299.8,582.7 L1304.2,571.8 L1305.8,565.2 L1308.5,554.3 L1310,542.5 L1306.4,539 L1299.2,533.3 L1290.8,523.7 L1289.8,519.3 L1286.8,515 L1284,506.2 L1279.8,495.3 L1273.5,488.7 L1273.4,482.2 L1277.4,477.4 L1275.3,472.1 L1275.4,466.9 L1278.9,460.8 L1282.7,456.4 L1284.5,451.6 L1289.3,445.5 L1288.2,436.3 L1286,431 L1283.8,427.1 L1281.3,423.2 L1277.6,425.8 L1276.3,429.7 L1272,428.8 L1266.8,426.2 L1263.7,424.9 L1258,420.1 L1255,416.6 L1254.8,414 L1247.3,406.1 L1245.2,404.8 L1237.3,402.2 L1231.9,401.3 L1228.2,398.7 L1221.8,392.6 L1218.2,391.7 L1211.6,393.9 L1205.7,392.1 L1199.7,389.5 L1191.6,385.1 L1183.7,382.5 L1177.9,378.1 L1175,372.9 L1175.3,368.5 L1172,362.8 L1163.2,353.2 L1157.4,347.1 L1151.5,340.5 L1144.5,334.4 L1139.3,326.1 L1132.9,323.5 L1134.6,330.5 L1142.2,338.4 L1145.8,344.5 L1153.8,356.3 L1158.9,361.1 L1156.8,362.4 L1150.3,355 L1147.2,351.5 L1142.2,345.4 L1138.2,343.6 L1138,339.7 L1132.1,333.1 L1126.1,324.4 L1122.7,318.3 L1117.9,314.8 L1109.2,311.3 L1102.7,302.5 L1099.4,297.3 L1094,292.1 L1090.1,286 L1089.2,279.5 L1087.2,275.6 L1086.4,266.1 L1084.9,260.5 L1080.1,252 L1086.1,252.9 L1085,249 L1076.9,244.8 L1067.3,240.6 L1064,235.1 L1055.8,228 L1052.2,223.9 L1045.4,217.7 L1036.8,210.8 L1028.5,209.2 L1021.6,207.2 L1012.8,203.6 L1003.6,203.6 L995.3,201.2 L991.2,203.6 L985.5,205.6 L981.1,206.8 L979.9,200.8 L976.4,203.6 L973.3,206.4 L972.7,211.6 L967,215.7 L961.3,219.8 L953.6,222.7 L945.9,225.1 L941.8,226.4 L948.8,222.7 L954.9,219.8 L960.4,213.6 L964.3,208.8 L958.2,209.6 L950.3,209.2 L948.1,204.4 L940.1,201.6 L937.4,199.6 L935.1,197.6 L938.9,190.9 L949.1,189.7 L948.6,185.8 L941.1,185.5 L932.5,185.1 L927.5,181.6 L931.6,179.3 L938.7,177.8 L945.4,180.1 L945.1,176.3 L938.9,175.2 L936.5,172.5 L931,171.4 L930.5,169.2"/>
<path d="M1312.9,204.4 L1301.3,200.4 L1292.5,197.6 L1282.8,192.5 L1273.6,187.8 L1264.8,182 L1257.9,178.2 L1251.6,172.5 L1254.9,168.8 L1242.9,164.4 L1236.8,161.5 L1227.7,156.2 L1217,150.9 L1206.2,145.8 L1195.2,143.4 L1184.6,144.1 L1170.9,141.4 L1159.3,137.5 L1161.1,135.3 L1166.2,131.4 L1168.8,127.1 L1179.4,125.2 L1201,124.4 L1214.1,121.9 L1236.8,121.9 L1256.3,124.4 L1267.1,127.1 L1281.4,131.4 L1284.3,134.4 L1295.4,139.2 L1301.2,144.1 L1314.3,149.2 L1315.1,154.4 L1315.2,158 L1326,161.5 L1328.4,165.2 L1326.5,168.8 L1318.7,172.5 L1310.2,172.5 L1312.2,180.1 L1307.1,182 L1305.6,185.8 L1309,191.7 L1310.7,197.6 L1315.2,203.6 L1312.9,204.4"/>
<path d="M1240.6,195.6 L1238.3,189.7 L1233.3,185.8 L1233.4,178.2 L1223.9,174.4 L1208.5,168.8 L1194.7,163.3 L1179.1,158.7 L1165.4,155.8 L1152.1,152 L1140.9,152.7 L1133.2,154.4 L1139.3,159.7 L1150.1,164.4 L1161.1,165.9 L1167.6,167 L1170.8,170.7 L1177.4,167 L1185.3,169.6 L1195.6,176.3 L1199.7,174.4 L1203,178.2 L1202,182 L1195,185.8 L1203.9,187.8 L1214.5,189.7 L1219.3,193.6 L1227.3,192.5 L1238.2,196.4 L1240.6,195.6"/>
<path d="M1167.6,125.7 L1144.5,123.6 L1120.9,123.1 L1103.2,127.1 L1106.2,131.4 L1120.2,136 L1132.1,140.8 L1147.5,143.1 L1149.8,140.8 L1148.5,136 L1156.1,134.4 L1159,131.4 L1164,128.5 L1167.6,125.7"/>
<path d="M1154.5,149.2 L1128.3,149.2 L1119.7,145.8 L1121.3,142.4 L1136.6,142.4 L1149.5,144.8 L1154.5,149.2"/>
<path d="M1113,168.8 L1103.4,169.2 L1092,168.8 L1077.3,167.7 L1067.4,165.2 L1062.6,161.5 L1060.8,156.2 L1071.7,154.4 L1083.6,156.2 L1090.4,154.4 L1098.4,159.7 L1107.8,163.3 L1113,168.8"/>
<path d="M1050.6,159.7 L1040.2,158 L1040.3,150.9 L1049.7,149.2 L1061.2,152.7 L1060.5,158 L1050.6,159.7"/>
<path d="M1087.6,147.5 L1075.9,149.2 L1059,147.5 L1053.4,143.4 L1065.4,142.4 L1076.4,143.4 L1087.6,147.5"/>
<path d="M1122.1,150.9 L1115.7,152.7 L1109.3,149.9 L1112,145.8 L1122.1,150.9"/>
<path d="M1102.6,144.1 L1093.9,145.8 L1085.7,142.4 L1092.7,139.2 L1102.6,144.1"/>
<path d="M1102.7,139.2 L1094.2,138.2 L1098,136 L1102.7,139.2"/>
<path d="M1117.1,134.4 L1109.1,136 L1096.6,131.4 L1100.2,128.5 L1117.1,134.4"/>
<path d="M1088.6,137.5 L1079.6,136 L1075,133.8 L1085.4,134.4 L1088.6,137.5"/>
<path d="M1189.7,188.6 L1178.7,189.7 L1168.3,187.8 L1167,182 L1171.4,182 L1180.8,184.7 L1189.7,188.6"/>
<path d="M1326.2,255.4 L1326.3,259.3 L1315.1,255 L1303.8,255 L1302.8,249 L1302.3,241.8 L1305.2,238.1 L1309.3,244.8 L1317.2,246.9 L1323.3,252 L1326.2,255.4"/>
<path d="M1084.4,251.6 L1078.3,249.5 L1068.3,244 L1064.9,241.4 L1071.3,242.7 L1079.3,246.9 L1084.4,251.6"/>
<path d="M1049.9,232.2 L1045.4,228 L1048.4,227.2 L1050.9,230.1 L1049.9,232.2"/>
<path d="M980.9,213.6 L975.1,216.5 L973,213.6 L977.4,211.6 L980.9,213.6"/>
<path d="M1300.8,259.7 L1291,260.5 L1295.2,261.8 L1300.8,259.7"/>
<path d="M1283.7,248.2 L1289.9,247.3 L1281.8,245.2 L1283.7,248.2"/>
<path d="M1252.2,366.8 L1260.8,363.3 L1268,361.5 L1278,365 L1288,370.7 L1293.8,373.8 L1283.5,375.5 L1280.3,372 L1274.7,368.1 L1267.1,367.6 L1260.8,365.9 L1255.6,366.8 L1252.2,366.8"/>
<path d="M1294.3,382.1 L1301,383.4 L1307.5,383.4 L1317.1,381.6 L1314.3,378.6 L1310.2,376.4 L1299.8,375.5 L1297.7,376.8 L1300.4,379.5 L1294.3,382.1"/>
<path d="M1279.6,382.5 L1287.4,384.3 L1287.2,382.9 L1282.5,381.6 L1279.6,382.5"/>
<path d="M1322,383.8 L1328.1,383.8 L1327.8,382.1 L1321.7,381.6 L1322,383.8"/>
<path d="M1276.4,355.4 L1277.4,351 L1280.6,357.6 L1276.4,355.4"/>
<path d="M1276.4,346.2 L1271.6,346.7 L1277.9,348 L1276.4,346.2"/>
<path d="M1348.2,418.4 L1349.9,415.3 L1346.4,415.3 L1348.2,418.4"/>
<path d="M987.5,378.1 L984.1,379.5 L983.6,375.1 L987.4,376 L987.5,378.1"/>
<path d="M983.5,372.5 L980.8,371.1 L982,372.5 L983.5,372.5"/>
<path d="M976.9,369.4 L975,368.5 L976.1,368.1 L976.9,369.4"/>
<path d="M970.8,366.8 L968.9,365.9 L970.4,365.5 L970.8,366.8"/>
<path d="M1286.4,687.8 L1294.2,686.1 L1294.6,687.8 L1290.1,689.5 L1286.4,687.8"/>
<path d="M1259,691.1 L1260.9,700.3 L1252.9,702.3 L1247.4,701.1 L1243,698.2 L1249.3,696.1 L1259,691.1"/>
<path d="M1359.3,697 L1354.4,697 L1357.9,700.3 L1359.3,697"/>
<path d="M395.6,761.1 L399.5,761.9 L426.8,762.4 L458,762.4 L480.1,754.6 L494.4,755.9 L500.9,754.6 L517.8,749.4 L523,745.5 L530.8,744.2 L538.6,745.5 L551.6,749.4 L562,749.9 L581.5,752 L585.4,755.9 L588,766.3 L595.8,767.6 L598.4,761.1 L606.2,755.9 L608.8,749.4 L624.4,746.8 L629.6,748.1 L660.8,749.4 L668.6,742.9 L684.2,748.1 L697.2,745.5 L712.8,748.1 L725.8,746.8 L759.6,745.5 L762.2,741.6 L767.4,747.3 L793.4,747.3 L796,752 L822,755.9 L837.6,759.8 L863.6,763.7 L868.8,766.3 L864.6,771.2 L856,774.8 L850.9,779.9 L851.6,785 L854.5,787.1 L860.3,789.3 L848.7,790.7 L845.1,795.8 L851.6,799.4 L867.5,803.1 L877.7,805.2 L892.2,805.2 L898,804.5 L915.4,803.8 L927,805.5 L941.5,807 L958.9,806.4 L975.6,806 L960,804.5 L952,802 L953,799 L950,797 L945,796 L948,794 L958,794 L970,795 L973,793 L965,791 L948,791 L946,787 L946.6,783.5 L963.2,786.4 L979.2,781.3 L983.5,778.4 L1009.6,774.8 L1034.3,774.1 L1047.3,772.6 L1066.2,773.3 L1069.1,776.2 L1083.6,778.4 L1099.5,777 L1096.6,771.2 L1101,767.5 L1117,767.5 L1120,771.9 L1134,769.8 L1141,771.2 L1153.6,773.3 L1159.2,771.2 L1166.2,774 L1178.8,771.9 L1198.4,768.4 L1199.8,760.7 L1209.6,755.1 L1215.2,748.8 L1232,741.1 L1241.8,738.3 L1257.9,734.8 L1251.6,738.3 L1234.8,743.2 L1218,752.3 L1216.6,755.1 L1220.1,757.9 L1218,761.4 L1206.8,771.2 L1198.4,774.7 L1183,778.9 L1169,782.4 L1152.2,783.1 L1156.4,786.6 L1141,790.1 L1141,793.6 L1152.2,797.1 L1166.2,799.2 L1178.8,801.3 L1209.6,799.2 L1229.2,797.1 L1254.4,795 L1257.2,791.5 L1243.2,790.8 L1251.6,786.6 L1274,783.1 L1302,779.6 L1323,775.4 L1327.2,772.6 L1344,767 L1358,764.2 L1360.8,766.3 L1372,764.2 L1381.8,762.1 L1386,760.7"/>
<path d="M932.8,790 L936,787.8 L941,788.5 L943,790.5 L939,792.2 L934,791.5 L932.8,790"/>
<path d="M1177,767 L1190,763 L1200,757 L1201,754 L1196,756 L1185,761 L1177,765 L1177,767"/>
<path d="M1163,795 L1185,793.6 L1226,794.5 L1205,797.8 L1175,797.5 L1163,795"/>
<path d="M1038.8,149.8 L1041,158.6 L1057.5,159.7 L1066.3,156.4 L1085,155.3 L1088.3,152 L1082.8,148.7 L1066.3,149.8 L1056.4,149.8 L1046.5,148.7 L1038.8,149.8"/>
<path d="M1047.6,139.9 L1066.3,138.8 L1083.9,145.4 L1066.3,147.6 L1052,145.4 L1047.6,139.9"/>
<path d="M1056.4,134.4 L1062,133.5 L1066.3,136 L1060,137.7 L1056.4,134.4"/>
<path d="M1072.9,132.2 L1091.6,134.4 L1084,137.7 L1072.9,135.5 L1072.9,132.2"/>
<path d="M1089.4,126.7 L1104,125 L1118,125.6 L1118,137.7 L1104.8,145.4 L1089.4,140.9 L1093.8,132.2 L1089.4,126.7"/>
<path d="M1096,122.3 L1120,120 L1140,119 L1150,122.3 L1130,126.7 L1096,126.7 L1096,122.3"/>
<path d="M1100.4,141 L1140,141 L1152,146.5 L1130,150 L1100.4,149 L1100.4,141"/>
<path d="M1098,151 L1120,152.5 L1145,158 L1130,160 L1100,159 L1098,151"/>
<path d="M1151,122.3 L1175,125 L1190,130 L1170,134 L1155,133 L1151,122.3"/>
<path d="M1156.5,135.5 L1184,138 L1200,142.5 L1175,143 L1160,141 L1156.5,135.5"/>
</g>
<g fill="none" stroke="#000" stroke-width="3.4">
<path d="M392.7,759.8 L1392.3,759.8"/>
<path d="M288.9,680.2 L1496.1,680.2"/>
<path d="M224.8,593.6 L1560.2,593.6"/>
<path d="M200.2,506.2 L1584.8,506.2"/>
<path d="M200.2,418.8 L1584.8,418.8"/>
<path d="M224.8,331.4 L1560.2,331.4"/>
<path d="M288.9,244.8 L1496.1,244.8"/>
<path d="M392.7,165.2 L1392.3,165.2"/>
<path d="M645.7,815 L640.7,813 L635.1,810.5 L629.1,807.6 L622.7,804.2 L615.9,800.4 L608.9,796.3 L601.6,791.9 L594.2,787.1 L586.9,782.2 L579.8,777.1 L573.1,771.8 L566.7,766.5 L560.6,761.1 L554.7,755.5 L548.9,749.9 L543.2,744.1 L537.6,738.3 L532.1,732.4 L526.7,726.5 L521.3,720.4 L516.1,714.3 L511,708.2 L506,702 L501.2,695.7 L496.5,689.4 L492,683 L487.7,676.6 L483.7,670.2 L479.8,663.7 L476,657.3 L472.3,650.7 L468.8,644.2 L465.4,637.6 L462.2,631.1 L459.2,624.5 L456.4,617.9 L453.7,611.3 L451.2,604.7 L448.8,598 L446.7,591.4 L444.7,584.8 L442.9,578.2 L441.3,571.6 L439.9,565 L438.6,558.4 L437.4,551.8 L436.2,545.1 L435.1,538.5 L434,531.9 L433.1,525.3 L432.3,518.7 L431.5,512.1 L430.9,505.5 L430.4,498.9 L429.9,492.3 L429.5,485.6 L429.3,479 L429,472.4 L428.9,465.8 L428.9,459.2 L429,452.6 L429.3,446 L429.5,439.4 L429.9,432.7 L430.4,426.1 L430.9,419.5 L431.5,412.9 L432.3,406.3 L433.1,399.7 L434,393.1 L435.1,386.5 L436.2,379.9 L437.4,373.2 L438.6,366.6 L439.9,360 L441.3,353.4 L442.9,346.8 L444.7,340.2 L446.7,333.6 L448.8,327 L451.2,320.3 L453.7,313.7 L456.4,307.1 L459.2,300.5 L462.2,293.9 L465.4,287.4 L468.8,280.8 L472.3,274.3 L476,267.7 L479.8,261.3 L483.7,254.8 L487.7,248.4 L492,242 L496.5,235.6 L501.2,229.3 L506,223 L511,216.8 L516.1,210.7 L521.3,204.6 L526.7,198.5 L532.1,192.6 L537.6,186.7 L543.2,180.9 L548.9,175.1 L554.7,169.5 L560.6,163.9 L566.7,158.5 L573.1,153.2 L579.8,147.9 L586.9,142.8 L594.2,137.9 L601.6,133.1 L608.9,128.7 L615.9,124.6 L622.7,120.8 L629.1,117.4 L635.1,114.5 L640.7,112 L645.7,110"/>
<path d="M769.1,815 L766.6,813 L763.8,810.5 L760.8,807.6 L757.6,804.2 L754.2,800.4 L750.7,796.3 L747,791.9 L743.3,787.1 L739.7,782.2 L736.1,777.1 L732.8,771.8 L729.6,766.5 L726.6,761.1 L723.6,755.5 L720.7,749.9 L717.9,744.1 L715.1,738.3 L712.3,732.4 L709.6,726.5 L706.9,720.4 L704.3,714.3 L701.8,708.2 L699.3,702 L696.8,695.7 L694.5,689.4 L692.3,683 L690.1,676.6 L688.1,670.2 L686.2,663.7 L684.3,657.3 L682.4,650.7 L680.6,644.2 L678.9,637.6 L677.3,631.1 L675.8,624.5 L674.4,617.9 L673.1,611.3 L671.8,604.7 L670.7,598 L669.6,591.4 L668.6,584.8 L667.7,578.2 L666.9,571.6 L666.2,565 L665.6,558.4 L665,551.8 L664.4,545.1 L663.8,538.5 L663.3,531.9 L662.8,525.3 L662.4,518.7 L662,512.1 L661.7,505.5 L661.4,498.9 L661.2,492.3 L661,485.6 L660.9,479 L660.8,472.4 L660.7,465.8 L660.7,459.2 L660.8,452.6 L660.9,446 L661,439.4 L661.2,432.7 L661.4,426.1 L661.7,419.5 L662,412.9 L662.4,406.3 L662.8,399.7 L663.3,393.1 L663.8,386.5 L664.4,379.9 L665,373.2 L665.6,366.6 L666.2,360 L666.9,353.4 L667.7,346.8 L668.6,340.2 L669.6,333.6 L670.7,327 L671.8,320.3 L673.1,313.7 L674.4,307.1 L675.8,300.5 L677.3,293.9 L678.9,287.4 L680.6,280.8 L682.4,274.3 L684.3,267.7 L686.2,261.3 L688.1,254.8 L690.1,248.4 L692.3,242 L694.5,235.6 L696.8,229.3 L699.3,223 L701.8,216.8 L704.3,210.7 L706.9,204.6 L709.6,198.5 L712.3,192.6 L715.1,186.7 L717.9,180.9 L720.7,175.1 L723.6,169.5 L726.6,163.9 L729.6,158.5 L732.8,153.2 L736.1,147.9 L739.7,142.8 L743.3,137.9 L747,133.1 L750.7,128.7 L754.2,124.6 L757.6,120.8 L760.8,117.4 L763.8,114.5 L766.6,112 L769.1,110"/>
<path d="M892.5,815 L892.5,813 L892.5,810.5 L892.5,807.6 L892.5,804.2 L892.5,800.4 L892.5,796.3 L892.5,791.9 L892.5,787.1 L892.5,782.2 L892.5,777.1 L892.5,771.8 L892.5,766.5 L892.5,761.1 L892.5,755.5 L892.5,749.9 L892.5,744.1 L892.5,738.3 L892.5,732.4 L892.5,726.5 L892.5,720.4 L892.5,714.3 L892.5,708.2 L892.5,702 L892.5,695.7 L892.5,689.4 L892.5,683 L892.5,676.6 L892.5,670.2 L892.5,663.7 L892.5,657.3 L892.5,650.7 L892.5,644.2 L892.5,637.6 L892.5,631.1 L892.5,624.5 L892.5,617.9 L892.5,611.3 L892.5,604.7 L892.5,598 L892.5,591.4 L892.5,584.8 L892.5,578.2 L892.5,571.6 L892.5,565 L892.5,558.4 L892.5,551.8 L892.5,545.1 L892.5,538.5 L892.5,531.9 L892.5,525.3 L892.5,518.7 L892.5,512.1 L892.5,505.5 L892.5,498.9 L892.5,492.3 L892.5,485.6 L892.5,479 L892.5,472.4 L892.5,465.8 L892.5,459.2 L892.5,452.6 L892.5,446 L892.5,439.4 L892.5,432.7 L892.5,426.1 L892.5,419.5 L892.5,412.9 L892.5,406.3 L892.5,399.7 L892.5,393.1 L892.5,386.5 L892.5,379.9 L892.5,373.2 L892.5,366.6 L892.5,360 L892.5,353.4 L892.5,346.8 L892.5,340.2 L892.5,333.6 L892.5,327 L892.5,320.3 L892.5,313.7 L892.5,307.1 L892.5,300.5 L892.5,293.9 L892.5,287.4 L892.5,280.8 L892.5,274.3 L892.5,267.7 L892.5,261.3 L892.5,254.8 L892.5,248.4 L892.5,242 L892.5,235.6 L892.5,229.3 L892.5,223 L892.5,216.8 L892.5,210.7 L892.5,204.6 L892.5,198.5 L892.5,192.6 L892.5,186.7 L892.5,180.9 L892.5,175.1 L892.5,169.5 L892.5,163.9 L892.5,158.5 L892.5,153.2 L892.5,147.9 L892.5,142.8 L892.5,137.9 L892.5,133.1 L892.5,128.7 L892.5,124.6 L892.5,120.8 L892.5,117.4 L892.5,114.5 L892.5,112 L892.5,110"/>
<path d="M1015.9,815 L1018.4,813 L1021.2,810.5 L1024.2,807.6 L1027.4,804.2 L1030.8,800.4 L1034.3,796.3 L1038,791.9 L1041.7,787.1 L1045.3,782.2 L1048.9,777.1 L1052.2,771.8 L1055.4,766.5 L1058.4,761.1 L1061.4,755.5 L1064.3,749.9 L1067.1,744.1 L1069.9,738.3 L1072.7,732.4 L1075.4,726.5 L1078.1,720.4 L1080.7,714.3 L1083.2,708.2 L1085.7,702 L1088.2,695.7 L1090.5,689.4 L1092.7,683 L1094.9,676.6 L1096.9,670.2 L1098.8,663.7 L1100.7,657.3 L1102.6,650.7 L1104.4,644.2 L1106.1,637.6 L1107.7,631.1 L1109.2,624.5 L1110.6,617.9 L1111.9,611.3 L1113.2,604.7 L1114.3,598 L1115.4,591.4 L1116.4,584.8 L1117.3,578.2 L1118.1,571.6 L1118.8,565 L1119.4,558.4 L1120,551.8 L1120.6,545.1 L1121.2,538.5 L1121.7,531.9 L1122.2,525.3 L1122.6,518.7 L1123,512.1 L1123.3,505.5 L1123.6,498.9 L1123.8,492.3 L1124,485.6 L1124.1,479 L1124.2,472.4 L1124.3,465.8 L1124.3,459.2 L1124.2,452.6 L1124.1,446 L1124,439.4 L1123.8,432.7 L1123.6,426.1 L1123.3,419.5 L1123,412.9 L1122.6,406.3 L1122.2,399.7 L1121.7,393.1 L1121.2,386.5 L1120.6,379.9 L1120,373.2 L1119.4,366.6 L1118.8,360 L1118.1,353.4 L1117.3,346.8 L1116.4,340.2 L1115.4,333.6 L1114.3,327 L1113.2,320.3 L1111.9,313.7 L1110.6,307.1 L1109.2,300.5 L1107.7,293.9 L1106.1,287.4 L1104.4,280.8 L1102.6,274.3 L1100.7,267.7 L1098.8,261.3 L1096.9,254.8 L1094.9,248.4 L1092.7,242 L1090.5,235.6 L1088.2,229.3 L1085.7,223 L1083.2,216.8 L1080.7,210.7 L1078.1,204.6 L1075.4,198.5 L1072.7,192.6 L1069.9,186.7 L1067.1,180.9 L1064.3,175.1 L1061.4,169.5 L1058.4,163.9 L1055.4,158.5 L1052.2,153.2 L1048.9,147.9 L1045.3,142.8 L1041.7,137.9 L1038,133.1 L1034.3,128.7 L1030.8,124.6 L1027.4,120.8 L1024.2,117.4 L1021.2,114.5 L1018.4,112 L1015.9,110"/>
<path d="M1139.3,815 L1144.3,813 L1149.9,810.5 L1155.9,807.6 L1162.3,804.2 L1169.1,800.4 L1176.1,796.3 L1183.4,791.9 L1190.8,787.1 L1198.1,782.2 L1205.2,777.1 L1211.9,771.8 L1218.3,766.5 L1224.4,761.1 L1230.3,755.5 L1236.1,749.9 L1241.8,744.1 L1247.4,738.3 L1252.9,732.4 L1258.3,726.5 L1263.7,720.4 L1268.9,714.3 L1274,708.2 L1279,702 L1283.8,695.7 L1288.5,689.4 L1293,683 L1297.3,676.6 L1301.3,670.2 L1305.2,663.7 L1309,657.3 L1312.7,650.7 L1316.2,644.2 L1319.6,637.6 L1322.8,631.1 L1325.8,624.5 L1328.6,617.9 L1331.3,611.3 L1333.8,604.7 L1336.2,598 L1338.3,591.4 L1340.3,584.8 L1342.1,578.2 L1343.7,571.6 L1345.1,565 L1346.4,558.4 L1347.6,551.8 L1348.8,545.1 L1349.9,538.5 L1351,531.9 L1351.9,525.3 L1352.7,518.7 L1353.5,512.1 L1354.1,505.5 L1354.6,498.9 L1355.1,492.3 L1355.5,485.6 L1355.7,479 L1356,472.4 L1356.1,465.8 L1356.1,459.2 L1356,452.6 L1355.7,446 L1355.5,439.4 L1355.1,432.7 L1354.6,426.1 L1354.1,419.5 L1353.5,412.9 L1352.7,406.3 L1351.9,399.7 L1351,393.1 L1349.9,386.5 L1348.8,379.9 L1347.6,373.2 L1346.4,366.6 L1345.1,360 L1343.7,353.4 L1342.1,346.8 L1340.3,340.2 L1338.3,333.6 L1336.2,327 L1333.8,320.3 L1331.3,313.7 L1328.6,307.1 L1325.8,300.5 L1322.8,293.9 L1319.6,287.4 L1316.2,280.8 L1312.7,274.3 L1309,267.7 L1305.2,261.3 L1301.3,254.8 L1297.3,248.4 L1293,242 L1288.5,235.6 L1283.8,229.3 L1279,223 L1274,216.8 L1268.9,210.7 L1263.7,204.6 L1258.3,198.5 L1252.9,192.6 L1247.4,186.7 L1241.8,180.9 L1236.1,175.1 L1230.3,169.5 L1224.4,163.9 L1218.3,158.5 L1211.9,153.2 L1205.2,147.9 L1198.1,142.8 L1190.8,137.9 L1183.4,133.1 L1176.1,128.7 L1169.1,124.6 L1162.3,120.8 L1155.9,117.4 L1149.9,114.5 L1144.3,112 L1139.3,110"/>
</g>
<path d="M1262.6,815 L1268.6,813.4 L1275.1,811.6 L1282,809.4 L1289.4,806.9 L1297.2,804.2 L1305.2,801.2 L1313.6,798 L1322.2,794.6 L1331,791 L1339.8,787.2 L1348.6,783.3 L1357.2,779.2 L1365.5,775.1 L1373.4,770.9 L1380.9,766.6 L1388.3,762.3 L1395.5,757.9 L1402.5,753.4 L1409.4,748.9 L1416.2,744.3 L1422.9,739.7 L1429.6,735 L1436.1,730.2 L1442.6,725.5 L1449,720.6 L1455.3,715.8 L1461.4,710.9 L1467.5,705.9 L1473.4,701 L1479.2,696 L1484.8,690.9 L1490.3,685.9 L1495.6,680.8 L1500.6,675.7 L1505.4,670.5 L1510.1,665.4 L1514.7,660.2 L1519.2,655 L1523.6,649.8 L1527.8,644.5 L1531.9,639.3 L1535.8,634.1 L1539.5,628.8 L1543.1,623.5 L1546.4,618.3 L1549.7,613 L1552.7,607.7 L1555.7,602.4 L1558.4,597.2 L1561,591.9 L1563.4,586.6 L1565.7,581.3 L1567.7,576 L1569.6,570.7 L1571.3,565.5 L1572.8,560.2 L1574.3,554.9 L1575.7,549.6 L1577.1,544.3 L1578.5,539.1 L1579.7,533.8 L1580.9,528.5 L1582,523.2 L1583,517.9 L1583.9,512.7 L1584.6,507.4 L1585.3,502.1 L1585.9,496.8 L1586.4,491.5 L1586.9,486.3 L1587.3,481 L1587.6,475.7 L1587.8,470.4 L1587.9,465.1 L1587.9,459.9 L1587.8,454.6 L1587.6,449.3 L1587.3,444 L1586.9,438.7 L1586.4,433.5 L1585.9,428.2 L1585.3,422.9 L1584.6,417.6 L1583.9,412.3 L1583,407.1 L1582,401.8 L1580.9,396.5 L1579.7,391.2 L1578.5,385.9 L1577.1,380.7 L1575.7,375.4 L1574.3,370.1 L1572.8,364.8 L1571.3,359.5 L1569.6,354.3 L1567.7,349 L1565.7,343.7 L1563.4,338.4 L1561,333.1 L1558.4,327.8 L1555.7,322.6 L1552.7,317.3 L1549.7,312 L1546.4,306.7 L1543.1,301.5 L1539.5,296.2 L1535.8,290.9 L1531.9,285.7 L1527.8,280.5 L1523.6,275.2 L1519.2,270 L1514.7,264.8 L1510.1,259.6 L1505.4,254.5 L1500.6,249.3 L1495.6,244.2 L1490.3,239.1 L1484.8,234.1 L1479.2,229 L1473.4,224 L1467.5,219.1 L1461.4,214.1 L1455.3,209.2 L1449,204.4 L1442.6,199.5 L1436.1,194.8 L1429.6,190 L1422.9,185.3 L1416.2,180.7 L1409.4,176.1 L1402.5,171.6 L1395.5,167.1 L1388.3,162.7 L1380.9,158.4 L1373.4,154.1 L1365.5,149.9 L1357.2,145.8 L1348.6,141.7 L1339.8,137.8 L1331,134 L1322.2,130.4 L1313.6,127 L1305.2,123.8 L1297.2,120.8 L1289.4,118.1 L1282,115.6 L1275.1,113.4 L1268.6,111.6 L1262.6,110 L522.4,110 L516.4,111.6 L509.9,113.4 L503,115.6 L495.6,118.1 L487.8,120.8 L479.8,123.8 L471.4,127 L462.8,130.4 L454,134 L445.2,137.8 L436.4,141.7 L427.8,145.8 L419.5,149.9 L411.6,154.1 L404.1,158.4 L396.7,162.7 L389.5,167.1 L382.5,171.6 L375.6,176.1 L368.8,180.7 L362.1,185.3 L355.4,190 L348.9,194.8 L342.4,199.5 L336,204.4 L329.7,209.2 L323.6,214.1 L317.5,219.1 L311.6,224 L305.8,229 L300.2,234.1 L294.7,239.1 L289.4,244.2 L284.4,249.3 L279.6,254.5 L274.9,259.6 L270.3,264.8 L265.8,270 L261.4,275.2 L257.2,280.5 L253.1,285.7 L249.2,290.9 L245.5,296.2 L241.9,301.5 L238.6,306.7 L235.3,312 L232.3,317.3 L229.3,322.6 L226.6,327.8 L224,333.1 L221.6,338.4 L219.3,343.7 L217.3,349 L215.4,354.3 L213.7,359.5 L212.2,364.8 L210.7,370.1 L209.3,375.4 L207.9,380.7 L206.5,385.9 L205.3,391.2 L204.1,396.5 L203,401.8 L202,407.1 L201.1,412.3 L200.4,417.6 L199.7,422.9 L199.1,428.2 L198.6,433.5 L198.1,438.7 L197.7,444 L197.4,449.3 L197.2,454.6 L197.1,459.9 L197.1,465.1 L197.2,470.4 L197.4,475.7 L197.7,481 L198.1,486.3 L198.6,491.5 L199.1,496.8 L199.7,502.1 L200.4,507.4 L201.1,512.7 L202,517.9 L203,523.2 L204.1,528.5 L205.3,533.8 L206.5,539.1 L207.9,544.3 L209.3,549.6 L210.7,554.9 L212.2,560.2 L213.7,565.5 L215.4,570.7 L217.3,576 L219.3,581.3 L221.6,586.6 L224,591.9 L226.6,597.2 L229.3,602.4 L232.3,607.7 L235.3,613 L238.6,618.3 L241.9,623.5 L245.5,628.8 L249.2,634.1 L253.1,639.3 L257.2,644.5 L261.4,649.8 L265.8,655 L270.3,660.2 L274.9,665.4 L279.6,670.5 L284.4,675.7 L289.4,680.8 L294.7,685.9 L300.2,690.9 L305.8,696 L311.6,701 L317.5,705.9 L323.6,710.9 L329.7,715.8 L336,720.6 L342.4,725.5 L348.9,730.2 L355.4,735 L362.1,739.7 L368.8,744.3 L375.6,748.9 L382.5,753.4 L389.5,757.9 L396.7,762.3 L404.1,766.6 L411.6,770.9 L419.5,775.1 L427.8,779.2 L436.4,783.3 L445.2,787.2 L454,791 L462.8,794.6 L471.4,798 L479.8,801.2 L487.8,804.2 L495.6,806.9 L503,809.4 L509.9,811.6 L516.4,813.4 L522.4,815Z" fill="none" stroke="#000" stroke-width="4.4" stroke-linejoin="miter"/>
<g font-family="'DejaVu Sans', 'Liberation Sans', sans-serif" font-size="31" text-anchor="start" fill="#000" stroke-width="2.6" stroke-linejoin="round" paint-order="stroke">
<text transform="translate(549.8,800.4) scale(1,1.05)" stroke="#ffffff">1</text>
<text transform="translate(682.5,800.4) scale(1,1.05)" stroke="#ffffff">2</text>
<text transform="translate(815.1,800.4) scale(1,1.05)" stroke="#ffffff">3</text>
<text transform="translate(947.8,800.4) scale(1,1.05)" stroke="#ffffff">4</text>
<text transform="translate(1080.4,800.4) scale(1,1.05)" stroke="#ffffff">5</text>
<text transform="translate(1213.1,800.4) scale(1,1.05)" stroke="#ffffff">6</text>
<text transform="translate(437.5,734.9) scale(1,1.05)" stroke="#ffffff">7</text>
<text transform="translate(613.6,734.9) scale(1,1.05)" stroke="#ffffff">8</text>
<text transform="translate(789.8,734.9) scale(1,1.05)" stroke="#ffffff">9</text>
<text transform="translate(965.9,734.9) scale(1,1.05)" stroke="#ffffff">10</text>
<text transform="translate(1142,734.9) scale(1,1.05)" stroke="#ffffff">11</text>
<text transform="translate(1318.1,734.9) scale(1,1.05)" stroke="#ffffff">12</text>
<text transform="translate(355.8,652.7) scale(1,1.05)" stroke="#ffffff">13</text>
<text transform="translate(563.5,652.7) scale(1,1.05)" stroke="#ffffff">14</text>
<text transform="translate(771.3,652.7) scale(1,1.05)" stroke="#ffffff">15</text>
<text transform="translate(979.1,652.7) scale(1,1.05)" stroke="#ffffff">16</text>
<text transform="translate(1186.8,652.7) scale(1,1.05)" stroke="#ffffff">17</text>
<text transform="translate(1394.6,652.7) scale(1,1.05)" stroke="#ffffff">18</text>
<text transform="translate(309.8,565.6) scale(1,1.05)" stroke="#ffffff">19</text>
<text transform="translate(535.3,565.6) scale(1,1.05)" stroke="#ffffff">20</text>
<text transform="translate(760.9,565.6) scale(1,1.05)" stroke="#ffffff">21</text>
<text transform="translate(986.5,565.6) scale(1,1.05)" stroke="#ffffff">22</text>
<text transform="translate(1212.1,565.6) scale(1,1.05)" stroke="#ffffff">23</text>
<text transform="translate(1437.6,565.6) scale(1,1.05)" stroke="#ffffff">24</text>
<text transform="translate(294.4,478.2) scale(1,1.05)" stroke="#fcfcf1">25</text>
<text transform="translate(525.9,478.2) scale(1,1.05)" stroke="#ffffff">26</text>
<text transform="translate(757.5,478.2) scale(1,1.05)" stroke="#ffffff">27</text>
<text transform="translate(989,478.2) scale(1,1.05)" stroke="#ffffff">28</text>
<text transform="translate(1220.5,478.2) scale(1,1.05)" stroke="#ffffff">29</text>
<text transform="translate(1452,478.2) scale(1,1.05)" stroke="#ffffff">30</text>
<text transform="translate(299.6,390.7) scale(1,1.05)" stroke="#ffffff">31</text>
<text transform="translate(529.1,390.7) scale(1,1.05)" stroke="#f2f0a8">32</text>
<text transform="translate(758.6,390.7) scale(1,1.05)" stroke="#edd67c">33</text>
<text transform="translate(988.1,390.7) scale(1,1.05)" stroke="#f6f7d6">34</text>
<text transform="translate(1217.6,390.7) scale(1,1.05)" stroke="#ef8c3b">35</text>
<text transform="translate(1447.2,390.7) scale(1,1.05)" stroke="#f2f0a8">36</text>
<text transform="translate(327.9,303.3) scale(1,1.05)" stroke="#fcfcf1">37</text>
<text transform="translate(546.5,303.3) scale(1,1.05)" stroke="#ffffff">38</text>
<text transform="translate(765,303.3) scale(1,1.05)" stroke="#fcfcf1">39</text>
<text transform="translate(983.6,303.3) scale(1,1.05)" stroke="#ffffff">40</text>
<text transform="translate(1202.1,303.3) scale(1,1.05)" stroke="#f6f7d6">41</text>
<text transform="translate(1420.7,303.3) scale(1,1.05)" stroke="#fcfcf1">42</text>
<text transform="translate(392.4,217.7) scale(1,1.05)" stroke="#e8532f">43</text>
<text transform="translate(586,217.7) scale(1,1.05)" stroke="#951b1e">44</text>
<text transform="translate(779.6,217.7) scale(1,1.05)" stroke="#edd67c">45</text>
<text transform="translate(973.2,217.7) scale(1,1.05)" stroke="#f6f7d6">46</text>
<text transform="translate(1166.7,217.7) scale(1,1.05)" stroke="#df3b2e">47</text>
<text transform="translate(1360.3,217.7) scale(1,1.05)" stroke="#ffffff">48</text>
<text transform="translate(489.3,141.3) scale(1,1.05)" stroke="#ffffff">49</text>
<text transform="translate(645.4,141.3) scale(1,1.05)" stroke="#f6f7d6">50</text>
<text transform="translate(801.5,141.3) scale(1,1.05)" stroke="#ffffff">51</text>
<text transform="translate(957.5,141.3) scale(1,1.05)" stroke="#ffffff">52</text>
<text transform="translate(1113.6,141.3) scale(1,1.05)" stroke="#fcfcf1">53</text>
<text transform="translate(1269.7,141.3) scale(1,1.05)" stroke="#ffffff">54</text>
</g>
<g font-family="'DejaVu Sans', 'Liberation Sans', sans-serif" font-size="27.8" text-anchor="end" fill="#000">
<text x="371" y="173.2">70°N</text>
<text x="276.4" y="252.8">50°N</text>
<text x="212.3" y="340.1">30°N</text>
<text x="188.7" y="426.8">10°N</text>
<text x="188.5" y="515.2">10°S</text>
<text x="212.3" y="601.6">30°S</text>
<text x="275.4" y="688.2">50°S</text>
<text x="370.6" y="767.8">70°S</text>
</g>
<g font-family="'DejaVu Sans', 'Liberation Sans', sans-serif" font-size="27.8" text-anchor="middle" fill="#000">
<text x="513" y="853.5">0°</text>
<text x="646" y="857">60°E</text>
<text x="769" y="857">120°E</text>
<text x="892" y="857">180°W</text>
<text x="1016" y="857">120°W</text>
<text x="1138" y="857">60°W</text>
</g>
<text x="155.8" y="61.6" font-family="'DejaVu Sans', 'Liberation Sans', sans-serif" font-size="67.8" font-weight="bold">a</text>
<text x="97.4" y="977.6" font-family="'DejaVu Sans', 'Liberation Sans', sans-serif" font-size="67.8" font-weight="bold">b</text>
<rect x="1793.5" y="10.15" width="43.0" height="30.035" fill="#951b1e"/>
<rect x="1793.5" y="40.185" width="43.0" height="30.035" fill="#b22425"/>
<rect x="1793.5" y="70.22" width="43.0" height="30.035" fill="#cc2a29"/>
<rect x="1793.5" y="100.25500000000001" width="43.0" height="30.035" fill="#df3b2e"/>
<rect x="1793.5" y="130.29" width="43.0" height="30.035" fill="#e8532f"/>
<rect x="1793.5" y="160.32500000000002" width="43.0" height="30.035" fill="#ec6f33"/>
<rect x="1793.5" y="190.36" width="43.0" height="30.035" fill="#ef8c3b"/>
<rect x="1793.5" y="220.395" width="43.0" height="30.035" fill="#eca840"/>
<rect x="1793.5" y="250.43" width="43.0" height="30.035" fill="#eac058"/>
<rect x="1793.5" y="280.465" width="43.0" height="30.035" fill="#edd67c"/>
<rect x="1793.5" y="310.5" width="43.0" height="30.035" fill="#f2f0a8"/>
<rect x="1793.5" y="340.53499999999997" width="43.0" height="30.035" fill="#f6f7d6"/>
<rect x="1793.5" y="370.57" width="43.0" height="30.035" fill="#fcfcf1"/>
<rect x="1793.5" y="400.60499999999996" width="43.0" height="30.035" fill="#ffffff"/>
<rect x="1793.5" y="430.64" width="43.0" height="30.035" fill="#ffffff"/>
<rect x="1793.5" y="460.67499999999995" width="43.0" height="30.035" fill="#f8fbfd"/>
<rect x="1793.5" y="490.71" width="43.0" height="30.035" fill="#e9f6fa"/>
<rect x="1793.5" y="520.745" width="43.0" height="30.035" fill="#d9f1f8"/>
<rect x="1793.5" y="550.78" width="43.0" height="30.035" fill="#c5ecf6"/>
<rect x="1793.5" y="580.8149999999999" width="43.0" height="30.035" fill="#afe4f4"/>
<rect x="1793.5" y="610.85" width="43.0" height="30.035" fill="#97d6ef"/>
<rect x="1793.5" y="640.885" width="43.0" height="30.035" fill="#7ebfe3"/>
<rect x="1793.5" y="670.92" width="43.0" height="30.035" fill="#67a8d8"/>
<rect x="1793.5" y="700.9549999999999" width="43.0" height="30.035" fill="#5189c7"/>
<rect x="1793.5" y="730.99" width="43.0" height="30.035" fill="#4370b8"/>
<rect x="1793.5" y="761.025" width="43.0" height="30.035" fill="#3a56a0"/>
<rect x="1793.5" y="791.06" width="43.0" height="30.035" fill="#2d4282"/>
<rect x="1793.5" y="821.095" width="43.0" height="30.035" fill="#232f64"/>
<g stroke="#000" stroke-width="3.4">
<line x1="1793.5" y1="40.185" x2="1836.5" y2="40.185"/>
<line x1="1793.5" y1="70.22" x2="1836.5" y2="70.22"/>
<line x1="1793.5" y1="100.25500000000001" x2="1836.5" y2="100.25500000000001"/>
<line x1="1793.5" y1="130.29" x2="1836.5" y2="130.29"/>
<line x1="1793.5" y1="160.32500000000002" x2="1836.5" y2="160.32500000000002"/>
<line x1="1793.5" y1="190.36" x2="1836.5" y2="190.36"/>
<line x1="1793.5" y1="220.395" x2="1836.5" y2="220.395"/>
<line x1="1793.5" y1="250.43" x2="1836.5" y2="250.43"/>
<line x1="1793.5" y1="280.465" x2="1836.5" y2="280.465"/>
<line x1="1793.5" y1="310.5" x2="1836.5" y2="310.5"/>
<line x1="1793.5" y1="340.53499999999997" x2="1836.5" y2="340.53499999999997"/>
<line x1="1793.5" y1="370.57" x2="1836.5" y2="370.57"/>
<line x1="1793.5" y1="400.60499999999996" x2="1836.5" y2="400.60499999999996"/>
<line x1="1793.5" y1="430.64" x2="1836.5" y2="430.64"/>
<line x1="1793.5" y1="460.67499999999995" x2="1836.5" y2="460.67499999999995"/>
<line x1="1793.5" y1="490.71" x2="1836.5" y2="490.71"/>
<line x1="1793.5" y1="520.745" x2="1836.5" y2="520.745"/>
<line x1="1793.5" y1="550.78" x2="1836.5" y2="550.78"/>
<line x1="1793.5" y1="580.8149999999999" x2="1836.5" y2="580.8149999999999"/>
<line x1="1793.5" y1="610.85" x2="1836.5" y2="610.85"/>
<line x1="1793.5" y1="640.885" x2="1836.5" y2="640.885"/>
<line x1="1793.5" y1="670.92" x2="1836.5" y2="670.92"/>
<line x1="1793.5" y1="700.9549999999999" x2="1836.5" y2="700.9549999999999"/>
<line x1="1793.5" y1="730.99" x2="1836.5" y2="730.99"/>
<line x1="1793.5" y1="761.025" x2="1836.5" y2="761.025"/>
<line x1="1793.5" y1="791.06" x2="1836.5" y2="791.06"/>
<line x1="1793.5" y1="821.095" x2="1836.5" y2="821.095"/>
</g>
<rect x="1793.5" y="10.15" width="43.0" height="840.98" fill="none" stroke="#000" stroke-width="3"/>
<g font-family="'DejaVu Sans', 'Liberation Sans', sans-serif" font-size="27.8" text-anchor="end">
<text x="1779.5" y="81.3">0.300</text>
<text x="1779.5" y="171">0.225</text>
<text x="1779.5" y="260.7">0.150</text>
<text x="1779.5" y="350.4">0.075</text>
<text x="1779.5" y="440">0.000</text>
<text x="1779.5" y="529.7">−0.075</text>
<text x="1779.5" y="619.4">−0.150</text>
<text x="1779.5" y="709">−0.225</text>
<text x="1779.5" y="798.7">−0.300</text>
</g>
<g font-family="'DejaVu Sans', 'Liberation Sans', sans-serif" font-size="27.8" text-anchor="start">
<text x="1850" y="20.3">17.33</text>
<text x="1851" y="81.5">14.85</text>
<text x="1851" y="141.5">12.38</text>
<text x="1851" y="201.5">9.90</text>
<text x="1851" y="261.5">7.43</text>
<text x="1851" y="321.5">4.95</text>
<text x="1851" y="381.5">2.48</text>
<text x="1851" y="441.5">0.00</text>
<text x="1851" y="501.5">-2.48</text>
<text x="1851" y="561.5">-4.95</text>
<text x="1851" y="621.5">-7.43</text>
<text x="1851" y="681.5">-9.90</text>
<text x="1851" y="741.5">-12.38</text>
<text x="1851" y="801.5">-14.85</text>
<text x="1851" y="861.5">-17.33</text>
</g>
<text transform="translate(1652,430) rotate(-90)" font-family="'DejaVu Sans', 'Liberation Sans', sans-serif" font-size="27.8" text-anchor="middle">JJA Arctic WV feedback [W m<tspan dy="-10" font-size="19.5">−2</tspan><tspan dy="10"> K</tspan><tspan dy="-10" font-size="19.5">−1</tspan><tspan dy="10">]</tspan></text>
<text transform="translate(1976,430) rotate(-90)" font-family="'DejaVu Sans', 'Liberation Sans', sans-serif" font-size="27.8" text-anchor="middle">Relative Contribution to Arctic WV feedback [%]</text>
<g stroke="#1a1a1a" stroke-width="1.1" stroke-linejoin="miter">
<path d="M1045.3,1300.2 L1055,1307.9 L1073.3,1338.5 L1084.5,1307.9 L1101.1,1292.2 L1117.3,1307.3 L1128.6,1346.1 L1159.4,1363.4 L1150,1410 L1143,1451 L1139.3,1470 L1137.5,1484.8 L1136,1529 L1136,1573.3 L1138.3,1622.7 L1125.7,1643.4 L1108,1653.7 L1101.2,1674.3 L1095,1653.7 L1080.7,1642.6 L1074.4,1622.7 L1074.4,1573.3 L1072.9,1550.9 L1070.4,1573.3 L1069.7,1599.8 L1070.4,1622.7 L1056.4,1643.4 L1045.3,1648.5 L1029.1,1643.4 L1017.3,1633.8 L1013.3,1622.7 L1014.3,1573 L1013.6,1529 L1009.9,1470 L1009.5,1410 L1013.3,1363.4 L1017.5,1338.5 L1032.6,1307.1Z" fill="#f6f7da"/>
<path d="M1045.3,1349.4 L1053.9,1363.4 L1061.6,1410 L1056.7,1451 L1045.3,1492.1 L1035.4,1451 L1032.4,1410 L1037.5,1363.4Z" fill="#f2f0a8"/>
<path d="M1101,1324.8 L1117.3,1363.4 L1119.5,1410 L1118.4,1451 L1117.2,1470 L1116.1,1529 L1115.4,1573.3 L1115.4,1622.7 L1101.2,1638.9 L1089.6,1622.7 L1089.6,1573.3 L1087.4,1529 L1082.2,1470 L1080.7,1451 L1078.7,1410 L1083.4,1363.4Z" fill="#f2f0a8"/>
<path d="M1101,1359.2 L1103.7,1363.4 L1106.4,1410 L1104.8,1451 L1104.8,1470 L1101.2,1509.1 L1098.4,1470 L1096,1451 L1094.4,1410 L1098.2,1363.4Z" fill="#ecd274"/>
<path d="M1351,1293.1 L1365.8,1307.9 L1378.9,1354.3 L1406.8,1357 L1434.6,1336.3 L1450,1363.4 L1458.1,1410 L1459.2,1480 L1457.7,1575.5 L1457,1622.7 L1455.5,1644.8 L1451.8,1653.6 L1448.9,1691.2 L1444.4,1722.8 L1434,1724.9 L1421.2,1723.6 L1418.6,1676.5 L1415.7,1652.1 L1409.8,1636.7 L1406.8,1616 L1389.9,1642.6 L1378.1,1653.6 L1388.4,1706 L1385.2,1723.6 L1391.6,1729.2 L1392,1731 L1341,1731 L1340.4,1729.2 L1346,1723.6 L1336,1706 L1320.6,1673.5 L1315.4,1653.6 L1305.1,1643.3 L1299.9,1622.7 L1299.2,1575.5 L1297,1470 L1295.3,1410 L1294.8,1363.4 L1295.3,1357.6 L1317.2,1307.3 L1323.2,1302.4Z" fill="#f6f7da"/>
<path d="M1351,1316.6 L1370.7,1360.9 L1371.8,1363.4 L1374,1410 L1375.1,1480 L1374.4,1575.5 L1374.4,1622.7 L1368.5,1645.5 L1358.2,1653.6 L1351.4,1680.9 L1340.5,1653.6 L1319.1,1643.3 L1308.8,1622.7 L1302.1,1470 L1301.9,1410 L1304.6,1363.4 L1323.7,1324.8Z" fill="#f2f0a8"/>
<path d="M1351,1335.7 L1362,1356.5 L1365.2,1363.4 L1368.5,1410 L1369,1475 L1367.8,1622.7 L1360.4,1643.3 L1351.4,1648.5 L1324.2,1631.5 L1318.3,1622.7 L1308,1470 L1308.4,1410 L1313.3,1363.4 L1323.7,1344.5Z" fill="#ecd274"/>
<path d="M1351,1353.8 L1355.4,1361.4 L1356.5,1363.4 L1363.1,1410 L1363.5,1470 L1361.1,1622.7 L1351.4,1638.9 L1330.9,1622.7 L1314.7,1470 L1314.8,1410 L1323.7,1363.1Z" fill="#ebae40"/>
<path d="M1351,1378.4 L1355.4,1395.8 L1358.1,1410 L1358.5,1470 L1353.7,1573.2 L1351.4,1624.9 L1339.7,1573.2 L1323.5,1521.6 L1320.6,1470 L1321.3,1410 L1323.2,1399.7Z" fill="#ed8b3a"/>
<path d="M1351,1411.1 L1353.3,1451 L1353.3,1470 L1351.4,1534.9 L1340.5,1487.7 L1339,1470 L1337.4,1451Z" fill="#e9622f"/>
<path d="M1434.6,1397.5 L1437.9,1407.3 L1445,1451 L1446,1480 L1451.1,1622.7 L1448.1,1643.3 L1440.8,1653.6 L1434.6,1716.3 L1428.2,1653.6 L1418.6,1639.6 L1415,1622.7 L1408.3,1470 L1409.5,1451 L1422.6,1410.6Z" fill="#f2f0a8"/>
<path d="M1434.6,1487.7 L1440.8,1529 L1443.7,1622.7 L1440.8,1641.1 L1434.6,1649.2 L1427.5,1641.1 L1422.3,1622.7 L1427.5,1518.7Z" fill="#ecd274"/>
<path d="M1434.6,1584.3 L1438.6,1622.7 L1434.6,1638.1 L1429.7,1622.7Z" fill="#ebae40"/>
<path d="M1268,1574.9 L1278.8,1601 L1282,1622 L1268.3,1649.6 L1261,1622 L1263.6,1601Z" fill="#f6f7da"/>
<path d="M1364.4,1731 L1378.8,1725.5 L1385.2,1729.2 L1386,1731Z" fill="#f2f0a8"/>
<path d="M1408.4,1729.2 L1458,1723.6 L1462.8,1717.2 L1490,1714.8 L1497.2,1723.6 L1494.8,1729.5 L1494.8,1731 L1408.4,1731Z" fill="#eef8fb" stroke-dasharray="4,3"/>
<path d="M1518,1713.2 L1547.6,1723.6 L1518,1728.4 L1516.4,1722Z" fill="#f6f7da"/>
<path d="M1601.2,1701.2 L1619.6,1723.6 L1614.8,1730 L1587.6,1730 L1582.8,1723.6Z" fill="#f6f7da"/>
<path d="M1601.2,1720.4 L1605.2,1723.6 L1601.2,1726 L1597.2,1723.6Z" fill="#f2f0a8"/>
<path d="M1038,1730.5 L1045,1727.5 L1052,1730.5Z" fill="#f6f7da"/>
<path d="M1203,1730.5 L1212,1726.5 L1221,1730.5Z" fill="#f6f7da"/>
</g>
<g stroke="#c6c6c6" stroke-width="1.39" stroke-dasharray="5.14,2.22" fill="none">
<line x1="267.2" y1="1026.75" x2="267.2" y2="1732.65"/>
<line x1="406.2" y1="1026.75" x2="406.2" y2="1732.65"/>
<line x1="545.2" y1="1026.75" x2="545.2" y2="1732.65"/>
<line x1="684.2" y1="1026.75" x2="684.2" y2="1732.65"/>
<line x1="823.2" y1="1026.75" x2="823.2" y2="1732.65"/>
<line x1="962.2" y1="1026.75" x2="962.2" y2="1732.65"/>
<line x1="1101.2" y1="1026.75" x2="1101.2" y2="1732.65"/>
<line x1="1240.2" y1="1026.75" x2="1240.2" y2="1732.65"/>
<line x1="1379.2" y1="1026.75" x2="1379.2" y2="1732.65"/>
<line x1="1518.2" y1="1026.75" x2="1518.2" y2="1732.65"/>
<line x1="142.5" y1="1239.2" x2="1643.0" y2="1239.2"/>
<line x1="142.5" y1="1363.5" x2="1643.0" y2="1363.5"/>
<line x1="142.5" y1="1451.7" x2="1643.0" y2="1451.7"/>
<line x1="142.5" y1="1576" x2="1643.0" y2="1576"/>
<line x1="142.5" y1="1623.3" x2="1643.0" y2="1623.3"/>
<line x1="142.5" y1="1664.2" x2="1643.0" y2="1664.2"/>
<line x1="142.5" y1="1700.3" x2="1643.0" y2="1700.3"/>
</g>
<rect x="142.5" y="1026.75" width="1500.5" height="705.9000000000001" fill="none" stroke="#000" stroke-width="4.4"/>
<g stroke="#000" stroke-width="2.8">
<line x1="128.5" y1="1026.8" x2="142.5" y2="1026.8"/>
<line x1="1643.0" y1="1026.8" x2="1657.0" y2="1026.8"/>
<line x1="128.5" y1="1239.2" x2="142.5" y2="1239.2"/>
<line x1="1643.0" y1="1239.2" x2="1657.0" y2="1239.2"/>
<line x1="128.5" y1="1363.5" x2="142.5" y2="1363.5"/>
<line x1="1643.0" y1="1363.5" x2="1657.0" y2="1363.5"/>
<line x1="128.5" y1="1451.7" x2="142.5" y2="1451.7"/>
<line x1="1643.0" y1="1451.7" x2="1657.0" y2="1451.7"/>
<line x1="128.5" y1="1576" x2="142.5" y2="1576"/>
<line x1="1643.0" y1="1576" x2="1657.0" y2="1576"/>
<line x1="128.5" y1="1623.3" x2="142.5" y2="1623.3"/>
<line x1="1643.0" y1="1623.3" x2="1657.0" y2="1623.3"/>
<line x1="128.5" y1="1664.2" x2="142.5" y2="1664.2"/>
<line x1="1643.0" y1="1664.2" x2="1657.0" y2="1664.2"/>
<line x1="128.5" y1="1700.3" x2="142.5" y2="1700.3"/>
<line x1="1643.0" y1="1700.3" x2="1657.0" y2="1700.3"/>
<line x1="128.5" y1="1732.7" x2="142.5" y2="1732.7"/>
<line x1="1643.0" y1="1732.7" x2="1657.0" y2="1732.7"/>
<line x1="135.0" y1="1520.2" x2="142.5" y2="1520.2" stroke-width="2"/>
<line x1="1643.0" y1="1520.2" x2="1650.5" y2="1520.2" stroke-width="2"/>
<line x1="156.1" y1="1732.65" x2="156.1" y2="1740.15" stroke-width="2"/>
<line x1="183.8" y1="1732.65" x2="183.8" y2="1740.15" stroke-width="2"/>
<line x1="211.7" y1="1732.65" x2="211.7" y2="1740.15" stroke-width="2"/>
<line x1="239.4" y1="1732.65" x2="239.4" y2="1740.15" stroke-width="2"/>
<line x1="267.2" y1="1732.65" x2="267.2" y2="1745.65"/>
<line x1="295.1" y1="1732.65" x2="295.1" y2="1740.15" stroke-width="2"/>
<line x1="322.9" y1="1732.65" x2="322.9" y2="1740.15" stroke-width="2"/>
<line x1="350.6" y1="1732.65" x2="350.6" y2="1740.15" stroke-width="2"/>
<line x1="378.5" y1="1732.65" x2="378.5" y2="1740.15" stroke-width="2"/>
<line x1="406.2" y1="1732.65" x2="406.2" y2="1745.65"/>
<line x1="434.1" y1="1732.65" x2="434.1" y2="1740.15" stroke-width="2"/>
<line x1="461.9" y1="1732.65" x2="461.9" y2="1740.15" stroke-width="2"/>
<line x1="489.7" y1="1732.65" x2="489.7" y2="1740.15" stroke-width="2"/>
<line x1="517.5" y1="1732.65" x2="517.5" y2="1740.15" stroke-width="2"/>
<line x1="545.2" y1="1732.65" x2="545.2" y2="1745.65"/>
<line x1="573" y1="1732.65" x2="573" y2="1740.15" stroke-width="2"/>
<line x1="600.9" y1="1732.65" x2="600.9" y2="1740.15" stroke-width="2"/>
<line x1="628.7" y1="1732.65" x2="628.7" y2="1740.15" stroke-width="2"/>
<line x1="656.5" y1="1732.65" x2="656.5" y2="1740.15" stroke-width="2"/>
<line x1="684.2" y1="1732.65" x2="684.2" y2="1745.65"/>
<line x1="712.1" y1="1732.65" x2="712.1" y2="1740.15" stroke-width="2"/>
<line x1="739.9" y1="1732.65" x2="739.9" y2="1740.15" stroke-width="2"/>
<line x1="767.6" y1="1732.65" x2="767.6" y2="1740.15" stroke-width="2"/>
<line x1="795.5" y1="1732.65" x2="795.5" y2="1740.15" stroke-width="2"/>
<line x1="823.2" y1="1732.65" x2="823.2" y2="1745.65"/>
<line x1="851.1" y1="1732.65" x2="851.1" y2="1740.15" stroke-width="2"/>
<line x1="878.9" y1="1732.65" x2="878.9" y2="1740.15" stroke-width="2"/>
<line x1="906.6" y1="1732.65" x2="906.6" y2="1740.15" stroke-width="2"/>
<line x1="934.5" y1="1732.65" x2="934.5" y2="1740.15" stroke-width="2"/>
<line x1="962.2" y1="1732.65" x2="962.2" y2="1745.65"/>
<line x1="990.1" y1="1732.65" x2="990.1" y2="1740.15" stroke-width="2"/>
<line x1="1017.9" y1="1732.65" x2="1017.9" y2="1740.15" stroke-width="2"/>
<line x1="1045.7" y1="1732.65" x2="1045.7" y2="1740.15" stroke-width="2"/>
<line x1="1073.5" y1="1732.65" x2="1073.5" y2="1740.15" stroke-width="2"/>
<line x1="1101.2" y1="1732.65" x2="1101.2" y2="1745.65"/>
<line x1="1129.1" y1="1732.65" x2="1129.1" y2="1740.15" stroke-width="2"/>
<line x1="1156.9" y1="1732.65" x2="1156.9" y2="1740.15" stroke-width="2"/>
<line x1="1184.7" y1="1732.65" x2="1184.7" y2="1740.15" stroke-width="2"/>
<line x1="1212.5" y1="1732.65" x2="1212.5" y2="1740.15" stroke-width="2"/>
<line x1="1240.2" y1="1732.65" x2="1240.2" y2="1745.65"/>
<line x1="1268" y1="1732.65" x2="1268" y2="1740.15" stroke-width="2"/>
<line x1="1295.9" y1="1732.65" x2="1295.9" y2="1740.15" stroke-width="2"/>
<line x1="1323.7" y1="1732.65" x2="1323.7" y2="1740.15" stroke-width="2"/>
<line x1="1351.5" y1="1732.65" x2="1351.5" y2="1740.15" stroke-width="2"/>
<line x1="1379.2" y1="1732.65" x2="1379.2" y2="1745.65"/>
<line x1="1407" y1="1732.65" x2="1407" y2="1740.15" stroke-width="2"/>
<line x1="1434.9" y1="1732.65" x2="1434.9" y2="1740.15" stroke-width="2"/>
<line x1="1462.7" y1="1732.65" x2="1462.7" y2="1740.15" stroke-width="2"/>
<line x1="1490.5" y1="1732.65" x2="1490.5" y2="1740.15" stroke-width="2"/>
<line x1="1518.2" y1="1732.65" x2="1518.2" y2="1745.65"/>
<line x1="1546" y1="1732.65" x2="1546" y2="1740.15" stroke-width="2"/>
<line x1="1573.9" y1="1732.65" x2="1573.9" y2="1740.15" stroke-width="2"/>
<line x1="1601.7" y1="1732.65" x2="1601.7" y2="1740.15" stroke-width="2"/>
<line x1="1629.5" y1="1732.65" x2="1629.5" y2="1740.15" stroke-width="2"/>
</g>
<g font-family="'DejaVu Sans', 'Liberation Sans', sans-serif" font-size="27.8" text-anchor="end">
<text x="113" y="1036.8">100</text>
<text x="113" y="1249.2">200</text>
<text x="113" y="1373.5">300</text>
<text x="113" y="1461.7">400</text>
<text x="113" y="1586">600</text>
<text x="113" y="1633.3">700</text>
<text x="113" y="1674.2">800</text>
<text x="113" y="1710.3">900</text>
<text x="113" y="1742.7">1000</text>
</g>
<g font-family="'DejaVu Sans', 'Liberation Sans', sans-serif" font-size="27.8" text-anchor="middle">
<text x="267.2" y="1781.3">5</text>
<text x="406.2" y="1781.3">10</text>
<text x="545.2" y="1781.3">15</text>
<text x="684.2" y="1781.3">20</text>
<text x="823.2" y="1781.3">25</text>
<text x="962.2" y="1781.3">30</text>
<text x="1101.2" y="1781.3">35</text>
<text x="1240.2" y="1781.3">40</text>
<text x="1379.2" y="1781.3">45</text>
<text x="1518.2" y="1781.3">50</text>
</g>
<text x="892" y="1824.5" font-family="'DejaVu Sans', 'Liberation Sans', sans-serif" font-size="27.8" text-anchor="middle">Region</text>
<text transform="translate(22,1379) rotate(-90)" font-family="'DejaVu Sans', 'Liberation Sans', sans-serif" font-size="27.8" text-anchor="middle">Pressure [hPa]</text>
<rect x="1793.5" y="951.4" width="43.0" height="42" fill="#a81f23"/>
<rect x="1793.5" y="993.4" width="43.0" height="42" fill="#cd2a29"/>
<rect x="1793.5" y="1035.4" width="43.0" height="42" fill="#df3d2e"/>
<rect x="1793.5" y="1077.5" width="43.0" height="42" fill="#e9622f"/>
<rect x="1793.5" y="1119.5" width="43.0" height="42" fill="#ed8b3a"/>
<rect x="1793.5" y="1161.5" width="43.0" height="42" fill="#ebae40"/>
<rect x="1793.5" y="1203.5" width="43.0" height="42" fill="#ecd274"/>
<rect x="1793.5" y="1245.5" width="43.0" height="42" fill="#f2f0a8"/>
<rect x="1793.5" y="1287.6" width="43.0" height="42" fill="#f6f7da"/>
<rect x="1793.5" y="1329.6" width="43.0" height="42" fill="#ffffff"/>
<rect x="1793.5" y="1371.6" width="43.0" height="42" fill="#ffffff"/>
<rect x="1793.5" y="1413.6" width="43.0" height="42" fill="#eef8fb"/>
<rect x="1793.5" y="1455.6" width="43.0" height="42" fill="#dbf3f9"/>
<rect x="1793.5" y="1497.7" width="43.0" height="42" fill="#c0eaf6"/>
<rect x="1793.5" y="1539.7" width="43.0" height="42" fill="#a6e2f3"/>
<rect x="1793.5" y="1581.7" width="43.0" height="42" fill="#84c2e3"/>
<rect x="1793.5" y="1623.7" width="43.0" height="42" fill="#66a4d4"/>
<rect x="1793.5" y="1665.7" width="43.0" height="42" fill="#4a7bbd"/>
<rect x="1793.5" y="1707.8" width="43.0" height="42" fill="#3a58a0"/>
<rect x="1793.5" y="1749.8" width="43.0" height="42" fill="#2a3b75"/>
<g stroke="#000" stroke-width="3.4">
<line x1="1793.5" y1="993.4" x2="1836.5" y2="993.4"/>
<line x1="1793.5" y1="1035.4" x2="1836.5" y2="1035.4"/>
<line x1="1793.5" y1="1077.5" x2="1836.5" y2="1077.5"/>
<line x1="1793.5" y1="1119.5" x2="1836.5" y2="1119.5"/>
<line x1="1793.5" y1="1161.5" x2="1836.5" y2="1161.5"/>
<line x1="1793.5" y1="1203.5" x2="1836.5" y2="1203.5"/>
<line x1="1793.5" y1="1245.5" x2="1836.5" y2="1245.5"/>
<line x1="1793.5" y1="1287.6" x2="1836.5" y2="1287.6"/>
<line x1="1793.5" y1="1329.6" x2="1836.5" y2="1329.6"/>
<line x1="1793.5" y1="1371.6" x2="1836.5" y2="1371.6"/>
<line x1="1793.5" y1="1413.6" x2="1836.5" y2="1413.6"/>
<line x1="1793.5" y1="1455.6" x2="1836.5" y2="1455.6"/>
<line x1="1793.5" y1="1497.7" x2="1836.5" y2="1497.7"/>
<line x1="1793.5" y1="1539.7" x2="1836.5" y2="1539.7"/>
<line x1="1793.5" y1="1581.7" x2="1836.5" y2="1581.7"/>
<line x1="1793.5" y1="1623.7" x2="1836.5" y2="1623.7"/>
<line x1="1793.5" y1="1665.7" x2="1836.5" y2="1665.7"/>
<line x1="1793.5" y1="1707.8" x2="1836.5" y2="1707.8"/>
<line x1="1793.5" y1="1749.8" x2="1836.5" y2="1749.8"/>
</g>
<rect x="1793.5" y="951.4" width="43.0" height="840.4" fill="none" stroke="#000" stroke-width="3"/>
<g font-family="'DejaVu Sans', 'Liberation Sans', sans-serif" font-size="27.8" text-anchor="start">
<text x="1851" y="1003.4">0.045</text>
<text x="1851" y="1129.5">0.030</text>
<text x="1851" y="1255.5">0.015</text>
<text x="1851" y="1381.6">0.000</text>
<text x="1851" y="1507.7">−0.015</text>
<text x="1851" y="1633.7">−0.030</text>
<text x="1851" y="1759.8">−0.045</text>
</g>
<text transform="translate(1995.5,1370) rotate(-90)" font-family="'DejaVu Sans', 'Liberation Sans', sans-serif" font-size="27.8" text-anchor="middle">JJA Arctic WV feedback [W m<tspan dy="-10" font-size="19.5">−2</tspan><tspan dy="10"> K</tspan><tspan dy="-10" font-size="19.5">−1</tspan><tspan dy="10">]</tspan></text>
</svg>
</body></html>
